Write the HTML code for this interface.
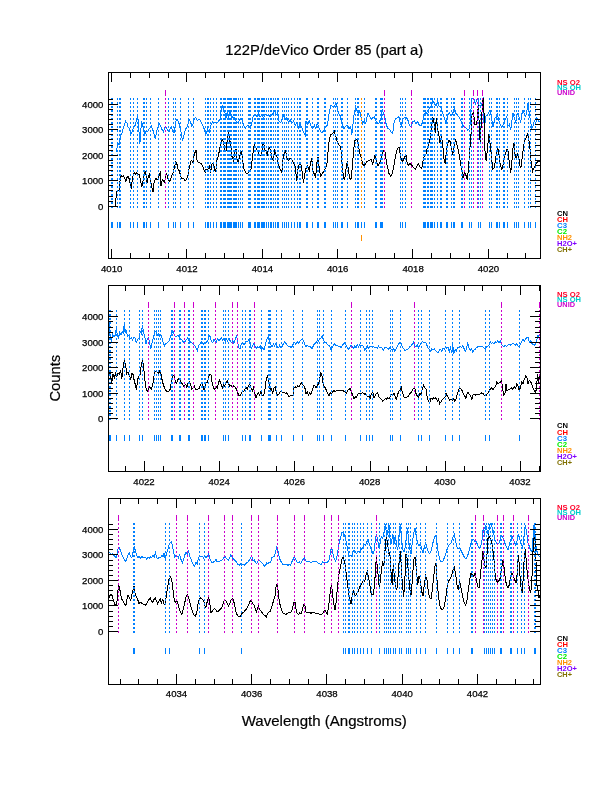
<!DOCTYPE html>
<html><head><meta charset="utf-8"><title>122P/deVico Order 85 (part a)</title>
<style>html,body{margin:0;padding:0;background:#fff}svg{display:block}</style></head><body>
<svg width="612" height="792" viewBox="0 0 612 792">
<rect width="612" height="792" fill="#fff"/>
<defs>
<pattern id="dB0" x="0" y="2" width="1" height="4" patternUnits="userSpaceOnUse"><rect x="0" y="0" width="1" height="2" fill="#0080ff"/></pattern>
<pattern id="dM0" x="0" y="2" width="1" height="4" patternUnits="userSpaceOnUse"><rect x="0" y="0" width="1" height="2" fill="#cc00cc"/></pattern>
<pattern id="dO0" x="0" y="2" width="1" height="4" patternUnits="userSpaceOnUse"><rect x="0" y="0" width="1" height="2" fill="#ff9000"/></pattern>
<pattern id="dB1" x="0" y="2" width="1" height="4" patternUnits="userSpaceOnUse"><rect x="0" y="0" width="1" height="2" fill="#0080ff"/></pattern>
<pattern id="dM1" x="0" y="2" width="1" height="4" patternUnits="userSpaceOnUse"><rect x="0" y="0" width="1" height="2" fill="#cc00cc"/></pattern>
<pattern id="dO1" x="0" y="2" width="1" height="4" patternUnits="userSpaceOnUse"><rect x="0" y="0" width="1" height="2" fill="#ff9000"/></pattern>
<pattern id="dB2" x="0" y="3" width="1" height="4" patternUnits="userSpaceOnUse"><rect x="0" y="0" width="1" height="2" fill="#0080ff"/></pattern>
<pattern id="dM2" x="0" y="3" width="1" height="4" patternUnits="userSpaceOnUse"><rect x="0" y="0" width="1" height="2" fill="#cc00cc"/></pattern>
<pattern id="dO2" x="0" y="3" width="1" height="4" patternUnits="userSpaceOnUse"><rect x="0" y="0" width="1" height="2" fill="#ff9000"/></pattern>
</defs>
<g font-family="Liberation Sans, sans-serif" fill="#000" stroke="#000" stroke-width="0.2">
<text x="324.2" y="54.8" font-size="14.8px" text-anchor="middle" textLength="198" lengthAdjust="spacingAndGlyphs">122P/deVico Order 85 (part a)</text>
<text x="324.2" y="726" font-size="15px" text-anchor="middle" textLength="165" lengthAdjust="spacingAndGlyphs">Wavelength (Angstroms)</text>
<text transform="translate(60.3 378.2) rotate(-90)" font-size="15.2px" text-anchor="middle" textLength="46.8" lengthAdjust="spacingAndGlyphs">Counts</text>
</g>
<polyline shape-rendering="crispEdges" fill="none" stroke="#0080ff" stroke-width="1" points="116.3,151.8 117.3,146.0 118.5,143.5 119.3,144.3 120.7,136.0 121.8,133.5 123.5,127.7 125.7,121.3 126.8,122.7 128.0,126.8 129.3,128.5 131.0,133.5 132.3,131.8 133.5,126.8 135.2,125.2 136.8,119.3 137.7,116.0 138.5,122.7 139.3,137.7 139.8,144.3 140.7,132.7 141.5,121.0 142.3,123.5 143.5,129.3 144.7,134.3 146.0,131.0 147.7,131.8 149.0,129.3 150.2,127.7 151.3,126.0 152.7,129.3 154.0,134.3 155.3,139.3 156.5,131.8 157.7,128.5 159.0,122.7 160.2,125.2 161.8,129.3 163.5,131.8 165.2,126.0 166.3,127.7 167.7,131.0 169.0,131.8 170.2,128.5 171.3,126.8 172.7,131.8 174.0,132.7 175.2,126.0 176.3,119.3 177.7,120.2 179.3,124.3 181.0,131.8 182.3,140.2 183.5,137.7 184.7,131.8 186.0,128.5 187.7,126.0 189.0,119.3 190.2,121.0 191.8,126.0 193.0,124.3 194.3,118.5 195.7,117.7 197.3,120.2 199.0,119.3 200.7,121.0 202.3,124.3 204.0,128.5 205.7,134.3 206.0,134.3 207.7,129.3 209.3,131.8 211.0,125.2 212.7,121.8 215.2,122.7 216.8,123.5 218.5,121.0 220.2,119.3 221.3,109.3 222.3,105.2 223.5,110.2 224.7,111.8 226.0,117.7 227.3,111.8 228.5,117.7 230.2,111.8 231.3,117.7 232.7,116.8 234.3,117.7 236.0,121.0 237.7,122.7 239.3,121.0 241.0,117.7 242.3,121.0 243.5,125.2 245.2,128.5 246.8,126.0 248.5,125.2 250.2,128.5 251.8,122.7 253.5,115.2 255.2,114.3 256.8,116.8 258.5,113.5 260.2,116.8 261.8,115.2 263.5,117.7 265.2,114.3 266.8,116.0 268.5,114.3 270.2,116.8 271.8,115.2 273.5,112.7 274.7,111.0 276.0,115.2 277.7,112.7 279.0,121.0 280.7,122.7 282.3,117.7 283.5,115.2 285.2,119.3 286.8,117.7 288.5,122.7 290.2,119.3 291.8,123.5 293.5,121.0 295.2,125.2 296.8,122.7 298.5,127.7 300.2,123.5 301.8,127.7 303.5,131.8 305.2,135.2 306.0,121.0 307.7,124.3 309.3,121.0 311.0,126.0 312.7,128.5 314.3,125.2 315.7,128.5 317.3,123.5 319.0,127.7 320.7,131.8 322.3,132.7 324.0,130.2 325.7,126.8 327.3,125.2 329.0,114.3 330.7,105.2 332.3,106.0 334.0,106.8 336.0,103.5 337.3,107.7 338.5,112.7 340.2,116.0 341.3,121.8 342.7,126.0 344.0,128.5 345.7,126.0 347.3,125.2 349.0,128.5 350.7,126.8 351.8,135.2 353.0,124.3 354.3,112.7 355.7,106.8 356.8,110.2 358.5,113.5 359.7,111.0 361.0,116.8 362.7,123.5 364.3,121.0 365.7,123.5 366.8,117.7 368.0,112.7 369.3,116.0 371.0,119.3 372.7,117.7 374.3,116.8 376.0,121.0 377.7,123.5 379.3,122.7 381.0,117.7 382.3,110.2 383.5,113.5 384.7,116.0 386.0,123.5 387.7,128.5 389.3,129.3 391.0,131.8 392.7,133.5 394.0,122.7 395.7,118.5 397.3,117.7 399.0,116.8 400.2,122.7 401.3,126.0 402.7,118.5 404.3,117.7 406.0,117.7 407.7,119.3 409.3,125.2 411.0,126.8 412.7,121.8 414.3,121.0 416.0,123.5 417.7,121.8 419.3,125.2 421.0,126.0 422.7,121.8 424.3,114.3 426.0,112.7 427.7,114.3 429.3,107.7 431.0,106.0 432.7,101.0 434.3,103.5 436.0,106.0 437.7,101.0 439.3,106.8 441.0,107.7 442.7,112.7 444.3,117.7 446.0,123.5 447.7,116.0 449.3,112.7 451.0,116.0 452.7,113.5 454.3,108.5 456.0,113.5 457.7,115.2 459.3,117.7 461.0,121.0 462.7,125.2 464.3,126.8 466.0,127.7 467.7,130.2 469.3,128.5 470.7,121.0 471.3,98.7 474.0,98.7 475.3,104.5 476.7,99.3 478.0,98.7 479.0,105.7 481.0,105.7 482.3,102.7 483.3,97.3 484.2,129.5 485.8,116.0 487.5,115.0 490.0,110.0 491.3,116.0 493.0,127.0 495.0,118.0 496.0,117.7 497.3,113.5 498.5,119.3 500.2,124.3 501.8,127.7 503.5,123.5 505.2,119.3 506.8,116.8 508.0,126.0 509.3,124.3 510.7,130.2 511.8,121.0 513.0,113.5 514.3,117.7 515.7,122.7 516.8,115.2 518.0,112.7 519.3,117.7 520.7,122.7 521.8,114.3 523.0,110.2 524.3,114.3 525.7,116.0 526.8,111.0 528.0,103.5 529.3,112.7 530.7,122.7 531.8,128.5 533.0,126.0 534.3,121.0 535.7,123.5 536.8,117.7 538.5,121.0 539.7,121.8"/>
<polyline shape-rendering="crispEdges" fill="none" stroke="#000" stroke-width="1" points="109.3,206.8 115.2,206.8 116.0,197.7 116.8,191.0 118.0,190.2 119.0,191.0 120.2,179.3 121.0,175.2 122.3,176.8 123.5,176.0 124.7,177.7 125.7,181.8 126.8,177.7 128.0,176.0 129.3,179.3 130.7,186.8 131.3,188.5 132.3,179.3 133.5,174.3 134.7,172.7 135.7,174.3 136.8,172.7 138.0,175.2 139.3,174.3 140.7,181.0 141.8,186.8 143.0,181.0 144.3,174.3 145.7,171.0 146.8,184.3 148.0,177.7 149.3,174.3 150.7,181.0 151.8,186.8 153.0,191.8 154.3,181.0 155.7,178.5 156.8,179.3 158.0,180.2 159.3,174.3 160.2,172.7 161.0,186.0 162.3,179.3 163.5,181.0 164.7,182.7 165.7,175.2 166.8,173.5 168.0,179.3 169.3,181.8 170.7,179.3 171.8,176.0 173.0,172.7 174.3,167.7 175.7,161.8 176.8,163.5 178.0,169.3 179.3,171.0 180.7,176.0 181.8,178.5 183.5,178.5 185.2,181.0 186.8,178.5 188.0,175.2 189.3,167.7 190.7,161.8 191.8,160.2 193.0,162.7 194.3,154.3 196.0,150.2 196.8,159.3 198.0,161.8 199.3,162.7 201.0,163.5 202.7,166.0 204.3,171.0 205.7,172.7 206.0,169.3 207.7,170.2 209.3,166.0 210.7,172.7 211.8,164.3 213.5,162.7 214.7,170.2 215.7,171.8 216.8,161.0 218.5,155.2 220.2,146.0 221.8,139.3 223.5,141.8 224.7,149.3 226.0,151.0 227.3,139.3 228.5,130.2 229.7,140.2 230.7,144.3 231.8,156.0 233.5,160.2 234.7,152.7 236.0,149.3 237.3,161.8 238.5,161.0 240.2,154.3 241.5,151.0 242.7,161.0 244.0,169.3 245.7,172.7 247.3,173.5 249.0,171.8 250.7,171.0 251.8,162.7 253.0,152.7 254.3,144.3 255.7,147.7 256.8,149.3 258.2,151.8 259.3,155.2 261.0,156.0 262.3,147.7 263.5,141.8 264.7,149.3 266.0,151.0 267.3,154.3 268.5,149.3 269.7,147.7 271.0,152.7 272.3,159.3 273.5,160.2 274.7,149.3 276.0,155.2 277.3,157.7 278.5,164.3 280.2,169.3 281.8,172.7 283.0,159.3 284.3,152.7 285.7,151.0 286.8,157.7 288.5,160.2 290.2,158.5 291.8,159.3 293.5,162.7 295.2,166.0 296.8,181.0 298.0,169.3 299.3,164.3 300.7,162.7 301.8,169.3 303.5,182.7 304.7,174.3 306.0,168.5 307.7,166.0 309.3,170.2 310.7,162.7 311.8,158.5 313.0,171.0 314.3,174.3 315.7,177.7 316.8,162.7 318.0,156.8 319.3,169.3 320.7,176.0 322.3,173.5 324.0,171.0 325.7,167.7 327.3,161.8 328.5,146.0 329.7,137.7 331.0,134.3 332.7,133.5 334.3,131.0 335.7,136.0 336.8,140.2 338.5,144.3 340.2,146.0 341.3,151.0 342.3,166.0 343.5,177.7 344.7,179.3 346.0,169.3 347.3,161.0 348.5,171.0 349.7,178.5 351.0,179.3 352.3,167.7 353.5,151.0 354.7,141.0 356.0,139.3 357.3,140.2 358.5,146.0 359.7,152.7 361.0,156.8 362.7,164.3 364.3,166.0 366.0,162.7 367.7,161.0 369.3,160.2 371.0,159.3 372.7,164.3 374.0,159.3 375.2,154.3 376.3,161.0 378.0,166.0 379.7,162.7 381.3,157.7 382.7,151.8 384.0,150.2 385.2,152.7 386.3,161.8 387.7,167.7 389.0,173.5 390.7,176.0 392.3,173.5 393.5,167.7 394.7,161.0 396.0,154.3 397.3,149.3 399.0,146.8 400.2,154.3 401.3,159.3 402.7,161.8 404.3,157.7 406.0,155.2 407.3,164.3 408.5,165.2 410.2,163.5 411.8,165.2 413.5,167.7 415.2,169.3 416.8,166.0 418.5,163.5 420.2,167.7 421.8,168.5 423.0,161.0 424.3,156.0 426.0,154.3 427.3,147.7 429.0,142.7 430.7,136.8 431.5,126.0 432.7,116.8 434.0,122.7 435.2,132.7 436.3,118.5 437.7,129.3 439.0,136.0 440.2,144.3 441.3,136.0 442.7,144.3 444.0,159.3 445.2,163.5 446.3,152.7 447.7,144.3 449.0,140.2 450.2,141.8 451.3,147.7 452.7,155.2 454.0,146.0 455.7,139.3 456.8,144.3 458.5,151.0 460.2,161.0 461.8,171.0 463.0,177.7 464.3,172.7 465.7,174.3 467.3,180.2 468.5,167.7 469.7,151.0 471.0,134.3 471.5,115.0 473.5,112.5 475.0,124.5 476.7,124.5 477.7,112.0 478.5,105.0 479.5,133.0 480.2,142.7 481.3,122.7 482.0,112.0 483.0,98.0 484.0,112.7 484.7,136.0 485.2,159.3 486.3,160.2 487.7,146.0 489.0,134.3 490.2,144.3 491.3,154.3 492.7,169.3 494.3,167.7 496.0,156.0 497.7,146.8 499.0,155.2 500.2,164.3 501.8,170.2 503.5,162.7 505.2,154.3 506.8,149.3 508.0,151.0 509.3,162.7 510.7,172.7 511.8,162.7 513.0,147.7 514.0,143.5 515.2,156.0 516.3,158.5 517.7,154.3 519.0,159.3 520.2,167.7 521.3,166.0 522.7,152.7 524.0,144.3 525.2,139.3 526.3,137.7 527.7,133.5 529.0,141.0 530.2,151.0 531.3,164.3 532.7,171.0 534.3,167.7 536.0,163.5 537.7,161.8 539.7,161.0"/>
<g shape-rendering="crispEdges">
<rect x="111" y="98" width="2" height="110" fill="url(#dB0)"/>
<rect x="111" y="222" width="2" height="6" fill="#0080ff"/>
<rect x="117" y="98" width="1" height="110" fill="url(#dB0)"/>
<rect x="117" y="222" width="1" height="6" fill="#0080ff"/>
<rect x="119" y="98" width="2" height="110" fill="url(#dB0)"/>
<rect x="119" y="222" width="2" height="6" fill="#0080ff"/>
<rect x="130" y="98" width="1" height="110" fill="url(#dB0)"/>
<rect x="130" y="222" width="1" height="6" fill="#0080ff"/>
<rect x="133" y="98" width="1" height="110" fill="url(#dB0)"/>
<rect x="133" y="222" width="1" height="6" fill="#0080ff"/>
<rect x="137" y="98" width="1" height="110" fill="url(#dB0)"/>
<rect x="137" y="222" width="1" height="6" fill="#0080ff"/>
<rect x="143" y="98" width="2" height="110" fill="url(#dB0)"/>
<rect x="143" y="222" width="2" height="6" fill="#0080ff"/>
<rect x="146" y="98" width="1" height="110" fill="url(#dB0)"/>
<rect x="146" y="222" width="1" height="6" fill="#0080ff"/>
<rect x="150" y="98" width="1" height="110" fill="url(#dB0)"/>
<rect x="150" y="222" width="1" height="6" fill="#0080ff"/>
<rect x="158" y="98" width="1" height="110" fill="url(#dB0)"/>
<rect x="158" y="222" width="1" height="6" fill="#0080ff"/>
<rect x="168" y="98" width="1" height="110" fill="url(#dB0)"/>
<rect x="168" y="222" width="1" height="6" fill="#0080ff"/>
<rect x="173" y="98" width="1" height="110" fill="url(#dB0)"/>
<rect x="173" y="222" width="1" height="6" fill="#0080ff"/>
<rect x="175" y="98" width="1" height="110" fill="url(#dB0)"/>
<rect x="175" y="222" width="1" height="6" fill="#0080ff"/>
<rect x="180" y="98" width="1" height="110" fill="url(#dB0)"/>
<rect x="180" y="222" width="1" height="6" fill="#0080ff"/>
<rect x="188" y="98" width="1" height="110" fill="url(#dB0)"/>
<rect x="188" y="222" width="1" height="6" fill="#0080ff"/>
<rect x="193" y="98" width="1" height="110" fill="url(#dB0)"/>
<rect x="193" y="222" width="1" height="6" fill="#0080ff"/>
<rect x="205" y="98" width="1" height="110" fill="url(#dB0)"/>
<rect x="205" y="222" width="1" height="6" fill="#0080ff"/>
<rect x="207" y="98" width="2" height="110" fill="url(#dB0)"/>
<rect x="207" y="222" width="2" height="6" fill="#0080ff"/>
<rect x="210" y="98" width="1" height="110" fill="url(#dB0)"/>
<rect x="210" y="222" width="1" height="6" fill="#0080ff"/>
<rect x="213" y="98" width="1" height="110" fill="url(#dB0)"/>
<rect x="213" y="222" width="1" height="6" fill="#0080ff"/>
<rect x="216" y="98" width="1" height="110" fill="url(#dB0)"/>
<rect x="216" y="222" width="1" height="6" fill="#0080ff"/>
<rect x="220" y="98" width="2" height="110" fill="url(#dB0)"/>
<rect x="220" y="222" width="2" height="6" fill="#0080ff"/>
<rect x="223" y="98" width="3" height="110" fill="url(#dB0)"/>
<rect x="223" y="222" width="3" height="6" fill="#0080ff"/>
<rect x="227" y="98" width="5" height="110" fill="url(#dB0)"/>
<rect x="227" y="222" width="5" height="6" fill="#0080ff"/>
<rect x="233" y="98" width="4" height="110" fill="url(#dB0)"/>
<rect x="233" y="222" width="4" height="6" fill="#0080ff"/>
<rect x="238" y="98" width="1" height="110" fill="url(#dB0)"/>
<rect x="238" y="222" width="1" height="6" fill="#0080ff"/>
<rect x="240" y="98" width="1" height="110" fill="url(#dB0)"/>
<rect x="240" y="222" width="1" height="6" fill="#0080ff"/>
<rect x="242" y="98" width="1" height="110" fill="url(#dB0)"/>
<rect x="242" y="222" width="1" height="6" fill="#0080ff"/>
<rect x="248" y="98" width="3" height="110" fill="url(#dB0)"/>
<rect x="248" y="222" width="3" height="6" fill="#0080ff"/>
<rect x="254" y="98" width="2" height="110" fill="url(#dB0)"/>
<rect x="254" y="222" width="2" height="6" fill="#0080ff"/>
<rect x="257" y="98" width="3" height="110" fill="url(#dB0)"/>
<rect x="257" y="222" width="3" height="6" fill="#0080ff"/>
<rect x="261" y="98" width="4" height="110" fill="url(#dB0)"/>
<rect x="261" y="222" width="4" height="6" fill="#0080ff"/>
<rect x="266" y="98" width="1" height="110" fill="url(#dB0)"/>
<rect x="266" y="222" width="1" height="6" fill="#0080ff"/>
<rect x="268" y="98" width="1" height="110" fill="url(#dB0)"/>
<rect x="268" y="222" width="1" height="6" fill="#0080ff"/>
<rect x="270" y="98" width="2" height="110" fill="url(#dB0)"/>
<rect x="270" y="222" width="2" height="6" fill="#0080ff"/>
<rect x="273" y="98" width="1" height="110" fill="url(#dB0)"/>
<rect x="273" y="222" width="1" height="6" fill="#0080ff"/>
<rect x="275" y="98" width="1" height="110" fill="url(#dB0)"/>
<rect x="275" y="222" width="1" height="6" fill="#0080ff"/>
<rect x="277" y="98" width="2" height="110" fill="url(#dB0)"/>
<rect x="277" y="222" width="2" height="6" fill="#0080ff"/>
<rect x="282" y="98" width="1" height="110" fill="url(#dB0)"/>
<rect x="282" y="222" width="1" height="6" fill="#0080ff"/>
<rect x="284" y="98" width="1" height="110" fill="url(#dB0)"/>
<rect x="284" y="222" width="1" height="6" fill="#0080ff"/>
<rect x="286" y="98" width="1" height="110" fill="url(#dB0)"/>
<rect x="286" y="222" width="1" height="6" fill="#0080ff"/>
<rect x="288" y="98" width="1" height="110" fill="url(#dB0)"/>
<rect x="288" y="222" width="1" height="6" fill="#0080ff"/>
<rect x="291" y="98" width="1" height="110" fill="url(#dB0)"/>
<rect x="291" y="222" width="1" height="6" fill="#0080ff"/>
<rect x="294" y="98" width="1" height="110" fill="url(#dB0)"/>
<rect x="294" y="222" width="1" height="6" fill="#0080ff"/>
<rect x="297" y="98" width="1" height="110" fill="url(#dB0)"/>
<rect x="297" y="222" width="1" height="6" fill="#0080ff"/>
<rect x="299" y="98" width="2" height="110" fill="url(#dB0)"/>
<rect x="299" y="222" width="2" height="6" fill="#0080ff"/>
<rect x="306" y="98" width="2" height="110" fill="url(#dB0)"/>
<rect x="306" y="222" width="2" height="6" fill="#0080ff"/>
<rect x="312" y="98" width="1" height="110" fill="url(#dB0)"/>
<rect x="312" y="222" width="1" height="6" fill="#0080ff"/>
<rect x="317" y="98" width="2" height="110" fill="url(#dB0)"/>
<rect x="317" y="222" width="2" height="6" fill="#0080ff"/>
<rect x="324" y="98" width="2" height="110" fill="url(#dB0)"/>
<rect x="324" y="222" width="2" height="6" fill="#0080ff"/>
<rect x="333" y="98" width="1" height="110" fill="url(#dB0)"/>
<rect x="333" y="222" width="1" height="6" fill="#0080ff"/>
<rect x="335" y="98" width="1" height="110" fill="url(#dB0)"/>
<rect x="335" y="222" width="1" height="6" fill="#0080ff"/>
<rect x="337" y="98" width="1" height="110" fill="url(#dB0)"/>
<rect x="337" y="222" width="1" height="6" fill="#0080ff"/>
<rect x="341" y="98" width="2" height="110" fill="url(#dB0)"/>
<rect x="341" y="222" width="2" height="6" fill="#0080ff"/>
<rect x="347" y="98" width="1" height="110" fill="url(#dB0)"/>
<rect x="347" y="222" width="1" height="6" fill="#0080ff"/>
<rect x="355" y="98" width="1" height="110" fill="url(#dB0)"/>
<rect x="355" y="222" width="1" height="6" fill="#0080ff"/>
<rect x="357" y="98" width="2" height="110" fill="url(#dB0)"/>
<rect x="357" y="222" width="2" height="6" fill="#0080ff"/>
<rect x="361" y="98" width="1" height="110" fill="url(#dB0)"/>
<rect x="361" y="222" width="1" height="6" fill="#0080ff"/>
<rect x="364" y="98" width="1" height="110" fill="url(#dB0)"/>
<rect x="364" y="222" width="1" height="6" fill="#0080ff"/>
<rect x="375" y="98" width="2" height="110" fill="url(#dB0)"/>
<rect x="375" y="222" width="2" height="6" fill="#0080ff"/>
<rect x="380" y="98" width="3" height="110" fill="url(#dB0)"/>
<rect x="380" y="222" width="3" height="6" fill="#0080ff"/>
<rect x="400" y="98" width="1" height="110" fill="url(#dB0)"/>
<rect x="400" y="222" width="1" height="6" fill="#0080ff"/>
<rect x="402" y="98" width="1" height="110" fill="url(#dB0)"/>
<rect x="402" y="222" width="1" height="6" fill="#0080ff"/>
<rect x="405" y="98" width="1" height="110" fill="url(#dB0)"/>
<rect x="405" y="222" width="1" height="6" fill="#0080ff"/>
<rect x="423" y="98" width="3" height="110" fill="url(#dB0)"/>
<rect x="423" y="222" width="3" height="6" fill="#0080ff"/>
<rect x="427" y="98" width="2" height="110" fill="url(#dB0)"/>
<rect x="427" y="222" width="2" height="6" fill="#0080ff"/>
<rect x="430" y="98" width="3" height="110" fill="url(#dB0)"/>
<rect x="430" y="222" width="3" height="6" fill="#0080ff"/>
<rect x="434" y="98" width="1" height="110" fill="url(#dB0)"/>
<rect x="434" y="222" width="1" height="6" fill="#0080ff"/>
<rect x="437" y="98" width="1" height="110" fill="url(#dB0)"/>
<rect x="437" y="222" width="1" height="6" fill="#0080ff"/>
<rect x="440" y="98" width="2" height="110" fill="url(#dB0)"/>
<rect x="440" y="222" width="2" height="6" fill="#0080ff"/>
<rect x="446" y="98" width="2" height="110" fill="url(#dB0)"/>
<rect x="446" y="222" width="2" height="6" fill="#0080ff"/>
<rect x="451" y="98" width="1" height="110" fill="url(#dB0)"/>
<rect x="451" y="222" width="1" height="6" fill="#0080ff"/>
<rect x="453" y="98" width="2" height="110" fill="url(#dB0)"/>
<rect x="453" y="222" width="2" height="6" fill="#0080ff"/>
<rect x="461" y="98" width="2" height="110" fill="url(#dB0)"/>
<rect x="461" y="222" width="2" height="6" fill="#0080ff"/>
<rect x="469" y="98" width="1" height="110" fill="url(#dB0)"/>
<rect x="469" y="222" width="1" height="6" fill="#0080ff"/>
<rect x="471" y="98" width="1" height="110" fill="url(#dB0)"/>
<rect x="471" y="222" width="1" height="6" fill="#0080ff"/>
<rect x="478" y="98" width="1" height="110" fill="url(#dB0)"/>
<rect x="478" y="222" width="1" height="6" fill="#0080ff"/>
<rect x="480" y="98" width="1" height="110" fill="url(#dB0)"/>
<rect x="480" y="222" width="1" height="6" fill="#0080ff"/>
<rect x="489" y="98" width="1" height="110" fill="url(#dB0)"/>
<rect x="489" y="222" width="1" height="6" fill="#0080ff"/>
<rect x="491" y="98" width="1" height="110" fill="url(#dB0)"/>
<rect x="491" y="222" width="1" height="6" fill="#0080ff"/>
<rect x="496" y="98" width="2" height="110" fill="url(#dB0)"/>
<rect x="496" y="222" width="2" height="6" fill="#0080ff"/>
<rect x="499" y="98" width="1" height="110" fill="url(#dB0)"/>
<rect x="499" y="222" width="1" height="6" fill="#0080ff"/>
<rect x="503" y="98" width="2" height="110" fill="url(#dB0)"/>
<rect x="503" y="222" width="2" height="6" fill="#0080ff"/>
<rect x="507" y="98" width="1" height="110" fill="url(#dB0)"/>
<rect x="507" y="222" width="1" height="6" fill="#0080ff"/>
<rect x="514" y="98" width="1" height="110" fill="url(#dB0)"/>
<rect x="514" y="222" width="1" height="6" fill="#0080ff"/>
<rect x="516" y="98" width="1" height="110" fill="url(#dB0)"/>
<rect x="516" y="222" width="1" height="6" fill="#0080ff"/>
<rect x="518" y="98" width="1" height="110" fill="url(#dB0)"/>
<rect x="518" y="222" width="1" height="6" fill="#0080ff"/>
<rect x="524" y="98" width="1" height="110" fill="url(#dB0)"/>
<rect x="524" y="222" width="1" height="6" fill="#0080ff"/>
<rect x="528" y="98" width="1" height="110" fill="url(#dB0)"/>
<rect x="528" y="222" width="1" height="6" fill="#0080ff"/>
<rect x="530" y="98" width="1" height="110" fill="url(#dB0)"/>
<rect x="530" y="222" width="1" height="6" fill="#0080ff"/>
<rect x="535" y="98" width="1" height="110" fill="url(#dB0)"/>
<rect x="535" y="222" width="1" height="6" fill="#0080ff"/>
<rect x="361" y="98" width="1" height="110" fill="url(#dO0)"/>
<rect x="361" y="235" width="1" height="6" fill="#ff9000"/>
<rect x="165" y="98" width="1" height="110" fill="url(#dM0)"/>
<rect x="165" y="90" width="1" height="6" fill="#cc00cc"/>
<rect x="384" y="98" width="1" height="110" fill="url(#dM0)"/>
<rect x="384" y="90" width="1" height="6" fill="#cc00cc"/>
<rect x="411" y="98" width="1" height="110" fill="url(#dM0)"/>
<rect x="411" y="90" width="1" height="6" fill="#cc00cc"/>
<rect x="464" y="98" width="1" height="110" fill="url(#dM0)"/>
<rect x="464" y="90" width="1" height="6" fill="#cc00cc"/>
<rect x="473" y="98" width="1" height="110" fill="url(#dM0)"/>
<rect x="473" y="90" width="1" height="6" fill="#cc00cc"/>
<rect x="477" y="98" width="1" height="110" fill="url(#dM0)"/>
<rect x="477" y="90" width="1" height="6" fill="#cc00cc"/>
<rect x="482" y="98" width="1" height="110" fill="url(#dM0)"/>
<rect x="482" y="90" width="1" height="6" fill="#cc00cc"/>
</g>
<g shape-rendering="crispEdges" fill="#000">
<rect x="108" y="72" width="433" height="1" fill="#000"/>
<rect x="108" y="258" width="433" height="1" fill="#000"/>
<rect x="108" y="72" width="1" height="187" fill="#000"/>
<rect x="540" y="72" width="1" height="187" fill="#000"/>
<rect x="111" y="73" width="1" height="9" fill="#000"/>
<rect x="111" y="249" width="1" height="9" fill="#000"/>
<rect x="130" y="73" width="1" height="5" fill="#000"/>
<rect x="130" y="253" width="1" height="5" fill="#000"/>
<rect x="149" y="73" width="1" height="5" fill="#000"/>
<rect x="149" y="253" width="1" height="5" fill="#000"/>
<rect x="168" y="73" width="1" height="5" fill="#000"/>
<rect x="168" y="253" width="1" height="5" fill="#000"/>
<rect x="186" y="73" width="1" height="9" fill="#000"/>
<rect x="186" y="249" width="1" height="9" fill="#000"/>
<rect x="205" y="73" width="1" height="5" fill="#000"/>
<rect x="205" y="253" width="1" height="5" fill="#000"/>
<rect x="224" y="73" width="1" height="5" fill="#000"/>
<rect x="224" y="253" width="1" height="5" fill="#000"/>
<rect x="243" y="73" width="1" height="5" fill="#000"/>
<rect x="243" y="253" width="1" height="5" fill="#000"/>
<rect x="262" y="73" width="1" height="9" fill="#000"/>
<rect x="262" y="249" width="1" height="9" fill="#000"/>
<rect x="281" y="73" width="1" height="5" fill="#000"/>
<rect x="281" y="253" width="1" height="5" fill="#000"/>
<rect x="299" y="73" width="1" height="5" fill="#000"/>
<rect x="299" y="253" width="1" height="5" fill="#000"/>
<rect x="318" y="73" width="1" height="5" fill="#000"/>
<rect x="318" y="253" width="1" height="5" fill="#000"/>
<rect x="337" y="73" width="1" height="9" fill="#000"/>
<rect x="337" y="249" width="1" height="9" fill="#000"/>
<rect x="356" y="73" width="1" height="5" fill="#000"/>
<rect x="356" y="253" width="1" height="5" fill="#000"/>
<rect x="375" y="73" width="1" height="5" fill="#000"/>
<rect x="375" y="253" width="1" height="5" fill="#000"/>
<rect x="394" y="73" width="1" height="5" fill="#000"/>
<rect x="394" y="253" width="1" height="5" fill="#000"/>
<rect x="412" y="73" width="1" height="9" fill="#000"/>
<rect x="412" y="249" width="1" height="9" fill="#000"/>
<rect x="431" y="73" width="1" height="5" fill="#000"/>
<rect x="431" y="253" width="1" height="5" fill="#000"/>
<rect x="450" y="73" width="1" height="5" fill="#000"/>
<rect x="450" y="253" width="1" height="5" fill="#000"/>
<rect x="469" y="73" width="1" height="5" fill="#000"/>
<rect x="469" y="253" width="1" height="5" fill="#000"/>
<rect x="488" y="73" width="1" height="9" fill="#000"/>
<rect x="488" y="249" width="1" height="9" fill="#000"/>
<rect x="507" y="73" width="1" height="5" fill="#000"/>
<rect x="507" y="253" width="1" height="5" fill="#000"/>
<rect x="525" y="73" width="1" height="5" fill="#000"/>
<rect x="525" y="253" width="1" height="5" fill="#000"/>
<rect x="109" y="206" width="9" height="1" fill="#000"/>
<rect x="530" y="206" width="10" height="1" fill="#000"/>
<rect x="109" y="201" width="4" height="1" fill="#000"/>
<rect x="535" y="201" width="5" height="1" fill="#000"/>
<rect x="109" y="196" width="4" height="1" fill="#000"/>
<rect x="535" y="196" width="5" height="1" fill="#000"/>
<rect x="109" y="190" width="4" height="1" fill="#000"/>
<rect x="535" y="190" width="5" height="1" fill="#000"/>
<rect x="109" y="185" width="4" height="1" fill="#000"/>
<rect x="535" y="185" width="5" height="1" fill="#000"/>
<rect x="109" y="180" width="9" height="1" fill="#000"/>
<rect x="530" y="180" width="10" height="1" fill="#000"/>
<rect x="109" y="175" width="4" height="1" fill="#000"/>
<rect x="535" y="175" width="5" height="1" fill="#000"/>
<rect x="109" y="170" width="4" height="1" fill="#000"/>
<rect x="535" y="170" width="5" height="1" fill="#000"/>
<rect x="109" y="165" width="4" height="1" fill="#000"/>
<rect x="535" y="165" width="5" height="1" fill="#000"/>
<rect x="109" y="160" width="4" height="1" fill="#000"/>
<rect x="535" y="160" width="5" height="1" fill="#000"/>
<rect x="109" y="155" width="9" height="1" fill="#000"/>
<rect x="530" y="155" width="10" height="1" fill="#000"/>
<rect x="109" y="150" width="4" height="1" fill="#000"/>
<rect x="535" y="150" width="5" height="1" fill="#000"/>
<rect x="109" y="145" width="4" height="1" fill="#000"/>
<rect x="535" y="145" width="5" height="1" fill="#000"/>
<rect x="109" y="139" width="4" height="1" fill="#000"/>
<rect x="535" y="139" width="5" height="1" fill="#000"/>
<rect x="109" y="134" width="4" height="1" fill="#000"/>
<rect x="535" y="134" width="5" height="1" fill="#000"/>
<rect x="109" y="129" width="9" height="1" fill="#000"/>
<rect x="530" y="129" width="10" height="1" fill="#000"/>
<rect x="109" y="124" width="4" height="1" fill="#000"/>
<rect x="535" y="124" width="5" height="1" fill="#000"/>
<rect x="109" y="119" width="4" height="1" fill="#000"/>
<rect x="535" y="119" width="5" height="1" fill="#000"/>
<rect x="109" y="114" width="4" height="1" fill="#000"/>
<rect x="535" y="114" width="5" height="1" fill="#000"/>
<rect x="109" y="109" width="4" height="1" fill="#000"/>
<rect x="535" y="109" width="5" height="1" fill="#000"/>
<rect x="109" y="104" width="9" height="1" fill="#000"/>
<rect x="530" y="104" width="10" height="1" fill="#000"/>
<rect x="109" y="99" width="4" height="1" fill="#000"/>
<rect x="535" y="99" width="5" height="1" fill="#000"/>
</g>
<g font-family="Liberation Sans, sans-serif" font-size="9.6px" fill="#000" stroke="#000" stroke-width="0.25">
<text x="111.7" y="272" text-anchor="middle">4010</text>
<text x="187.0" y="272" text-anchor="middle">4012</text>
<text x="262.4" y="272" text-anchor="middle">4014</text>
<text x="337.7" y="272" text-anchor="middle">4016</text>
<text x="413.1" y="272" text-anchor="middle">4018</text>
<text x="488.4" y="272" text-anchor="middle">4020</text>
<text x="103.4" y="210" text-anchor="end">0</text>
<text x="103.4" y="184" text-anchor="end">1000</text>
<text x="103.4" y="159" text-anchor="end">2000</text>
<text x="103.4" y="133" text-anchor="end">3000</text>
<text x="103.4" y="108" text-anchor="end">4000</text>
</g>
<g font-family="Liberation Sans, sans-serif" font-size="7px" font-weight="bold">
<text x="557" y="85" fill="#ff0028" textLength="23" lengthAdjust="spacingAndGlyphs">NS O2</text>
<text x="557" y="90" fill="#00cccc" textLength="24" lengthAdjust="spacingAndGlyphs">NS OH</text>
<text x="557" y="95" fill="#cc00cc" textLength="18" lengthAdjust="spacingAndGlyphs">UNID</text>
<text x="557" y="216" fill="#000" textLength="11" lengthAdjust="spacingAndGlyphs">CN</text>
<text x="557" y="222" fill="#ff0000" textLength="11" lengthAdjust="spacingAndGlyphs">CH</text>
<text x="557" y="228" fill="#0080ff" textLength="10" lengthAdjust="spacingAndGlyphs">C3</text>
<text x="557" y="234" fill="#00ee00" textLength="10" lengthAdjust="spacingAndGlyphs">C2</text>
<text x="557" y="240" fill="#ff9000" textLength="15" lengthAdjust="spacingAndGlyphs">NH2</text>
<text x="557" y="246" fill="#8000ff" textLength="20" lengthAdjust="spacingAndGlyphs">H2O+</text>
<text x="557" y="252" fill="#807000" textLength="15" lengthAdjust="spacingAndGlyphs">CH+</text>
</g>
<polyline shape-rendering="crispEdges" fill="none" stroke="#0080ff" stroke-width="1" points="108.5,317.7 109.3,322.7 110.2,337.7 111.3,341.0 112.7,334.3 114.0,336.8 115.2,335.2 116.3,327.7 117.3,335.2 118.5,337.7 119.7,332.7 121.0,335.2 122.3,331.8 123.5,333.5 124.3,321.8 125.3,332.7 126.3,331.0 127.7,336.0 129.0,335.2 130.2,338.5 131.3,337.7 132.7,340.2 134.0,336.8 135.2,338.5 136.3,342.7 137.7,339.3 139.0,337.7 140.2,331.8 141.3,333.5 142.3,325.2 143.5,331.8 144.7,336.8 146.0,343.5 147.3,339.3 148.5,337.7 149.7,343.5 151.0,348.5 152.3,341.0 153.5,337.7 154.7,331.8 156.0,331.0 157.3,335.2 158.5,333.5 159.7,336.0 161.0,335.2 162.3,339.3 163.5,343.5 164.7,346.0 166.0,343.5 167.3,342.7 169.0,341.0 170.7,336.0 171.8,332.7 173.0,331.0 174.3,335.2 176.0,336.8 177.7,335.2 179.3,336.8 181.0,339.3 182.7,341.0 184.3,342.7 186.0,340.2 187.7,337.7 189.3,341.0 191.0,342.7 192.7,343.5 194.3,345.2 196.0,347.7 197.3,351.0 198.5,346.0 200.2,343.5 201.8,341.8 203.5,344.3 205.2,342.7 206.0,342.7 207.7,341.0 209.0,335.2 210.2,336.8 211.3,341.0 212.7,342.7 214.0,339.3 215.2,341.0 216.3,341.8 217.7,338.5 219.0,341.0 220.2,339.3 221.3,337.7 222.7,340.2 224.0,338.5 225.2,341.0 226.3,338.5 227.7,341.0 229.0,337.7 230.2,341.0 231.3,342.7 232.7,341.0 234.0,343.5 235.2,339.3 236.5,335.2 237.7,342.7 238.8,347.7 240.2,348.5 241.3,344.3 242.7,342.7 244.0,345.2 245.2,342.7 246.3,341.0 247.7,341.8 249.0,339.3 250.2,344.3 251.3,348.5 252.7,345.2 254.0,343.5 255.2,346.8 256.3,348.5 257.7,346.8 259.0,347.7 260.2,346.0 261.3,349.3 262.7,347.7 264.0,350.2 265.2,345.2 266.3,341.0 267.7,337.7 268.7,335.2 269.7,343.5 271.0,345.2 272.3,346.8 273.5,344.3 274.7,346.0 276.0,342.7 277.3,346.8 278.5,347.7 279.7,345.2 281.0,347.7 282.3,346.0 283.5,343.5 284.7,341.8 286.0,343.5 287.3,345.2 288.5,346.8 289.7,346.0 291.0,347.7 292.3,346.0 293.5,343.5 294.7,342.7 296.0,344.3 297.3,341.8 298.5,343.5 299.7,341.0 301.0,340.2 302.3,338.5 303.5,341.0 304.7,344.3 306.0,346.8 307.3,345.2 308.5,346.8 309.7,346.0 311.0,347.7 312.3,348.5 313.5,345.2 314.7,343.5 316.0,342.7 317.3,340.2 318.5,341.0 319.7,339.3 321.0,337.7 322.2,336.0 323.5,340.2 324.7,342.7 326.0,341.8 327.3,344.3 328.5,345.2 329.7,346.0 331.0,350.2 332.3,346.8 333.5,345.2 334.7,343.5 336.0,346.0 337.3,345.2 338.5,346.8 339.7,346.0 341.0,347.7 342.3,345.2 343.5,344.3 344.7,342.7 346.0,345.2 347.3,347.7 348.5,349.3 349.7,347.7 351.0,345.2 352.3,346.8 353.5,348.5 354.7,346.0 356.0,347.7 357.3,344.3 358.5,346.8 359.7,344.3 361.0,346.0 362.3,345.2 363.5,346.8 364.7,350.2 366.0,348.5 367.3,346.0 368.5,348.5 369.7,346.8 371.0,346.0 372.3,347.7 373.5,346.8 374.7,347.7 376.0,346.8 377.3,348.5 378.5,346.0 379.7,347.7 381.0,346.8 382.3,348.5 383.5,350.2 384.7,347.7 386.0,346.8 387.3,348.5 388.5,349.3 389.7,347.7 391.0,349.3 392.3,350.2 393.5,348.5 394.7,351.0 396.0,349.3 397.3,346.8 398.5,344.3 399.7,342.7 401.0,343.5 402.3,346.8 403.5,348.5 404.7,350.2 406.0,350.2 407.3,349.3 408.5,348.5 409.7,346.8 411.0,346.0 412.3,344.3 413.5,341.8 414.7,346.0 416.0,346.8 417.3,345.2 418.5,347.7 419.7,345.2 421.0,343.5 422.3,341.8 424.0,342.7 425.7,342.7 426.8,345.2 428.0,347.7 429.3,349.3 430.7,351.8 431.8,348.5 433.0,350.2 434.3,348.5 435.7,351.0 436.8,351.8 438.0,352.7 439.3,350.2 440.7,349.3 441.8,351.8 443.0,348.5 444.3,349.3 445.7,346.8 446.8,348.5 448.0,346.8 449.3,351.8 450.5,347.7 451.7,352.7 452.7,344.3 453.8,353.5 455.2,349.3 456.3,351.0 457.7,347.7 459.0,346.8 460.2,346.0 461.3,347.7 462.7,346.0 464.0,348.5 465.2,351.8 466.3,349.3 467.7,343.5 469.0,347.7 470.2,350.2 471.3,348.5 472.7,351.8 474.0,350.2 475.2,349.3 476.3,347.7 477.7,346.8 479.0,346.0 480.2,346.8 481.3,346.0 482.7,346.8 484.0,347.7 485.2,349.3 486.3,346.8 487.7,346.0 489.0,345.2 490.2,341.8 491.3,343.5 492.7,342.7 494.0,344.3 495.2,341.8 496.3,342.7 497.7,341.0 499.0,342.7 500.2,341.0 501.3,343.5 502.7,346.0 504.0,346.8 505.2,345.2 506.5,346.8 508.0,345.2 509.3,344.3 510.7,345.2 511.8,344.3 513.0,343.5 514.3,344.3 515.7,345.2 516.8,343.5 518.0,346.0 519.3,346.8 520.7,343.5 521.8,341.0 523.0,339.3 524.3,341.0 525.7,338.5 526.8,337.7 528.0,336.8 529.3,342.7 530.7,340.2 531.8,343.5 533.0,344.3 534.3,345.2 535.7,344.3 536.8,339.3 538.0,335.2 539.3,337.7"/>
<polyline shape-rendering="crispEdges" fill="none" stroke="#000" stroke-width="1" points="109.3,371.0 110.7,376.0 111.8,382.7 113.0,374.3 114.3,377.7 115.7,373.5 116.8,376.0 118.0,372.7 119.3,374.3 120.7,371.0 121.8,378.5 123.0,367.7 124.3,360.2 125.7,366.0 126.8,373.5 128.0,371.8 129.3,375.2 130.7,379.3 131.8,373.5 133.0,374.3 134.3,381.0 135.7,386.0 136.3,390.2 137.7,379.3 139.0,376.0 140.2,374.3 141.3,364.3 142.7,360.2 144.0,371.0 145.2,382.7 146.3,389.3 147.7,391.8 149.0,386.0 150.2,387.7 151.3,389.3 152.7,385.2 154.0,376.0 155.2,371.0 156.8,371.8 158.5,373.5 159.7,371.0 161.0,374.3 162.3,381.0 163.5,385.2 165.2,389.3 166.8,391.8 168.5,391.8 170.2,389.3 171.3,382.7 172.7,376.0 174.0,375.2 175.2,381.0 176.3,383.5 177.7,380.2 179.0,377.7 180.2,379.3 181.3,382.7 182.7,384.3 184.0,386.8 185.7,384.3 186.8,387.7 188.0,382.7 189.3,381.8 190.7,384.3 191.8,389.3 193.0,387.7 194.3,386.0 196.0,390.2 197.7,389.3 199.3,388.5 200.7,384.3 201.8,382.7 203.0,386.0 204.3,391.0 205.7,384.3 206.0,381.8 207.3,382.7 208.5,377.7 209.7,374.3 211.0,375.2 212.3,384.3 213.5,387.7 214.7,389.3 216.0,386.0 217.3,387.7 218.5,382.7 219.7,380.2 221.0,384.3 222.3,387.7 223.5,384.3 224.7,386.0 226.0,382.7 227.3,381.0 228.5,383.5 229.7,386.0 231.0,385.2 232.3,387.7 233.5,386.0 234.7,386.8 236.0,388.5 237.3,391.0 238.5,395.2 239.8,396.0 241.0,394.3 242.3,391.0 243.5,391.8 244.7,389.3 246.0,386.8 247.3,389.3 248.5,386.0 249.7,384.3 251.0,387.7 252.3,391.0 253.5,387.7 254.7,393.5 256.0,397.7 257.3,394.3 258.5,392.7 259.7,395.2 261.0,391.0 262.3,396.0 263.5,395.2 264.7,391.8 265.7,382.7 266.8,377.7 267.7,376.0 269.0,384.3 270.2,389.3 271.3,388.5 272.7,392.7 274.0,387.7 275.2,386.8 276.3,392.7 277.7,395.2 279.0,394.3 280.2,391.8 281.3,391.0 282.7,392.7 284.0,391.8 285.2,393.5 286.3,392.7 287.7,394.3 289.0,396.8 290.2,396.0 291.8,395.2 293.0,395.7 293.8,387.7 295.2,386.8 296.3,387.7 297.7,386.0 299.0,386.8 300.2,384.3 301.8,382.7 303.0,385.2 304.3,386.0 305.7,391.0 306.0,393.5 307.3,391.8 308.5,395.2 309.7,392.7 311.0,394.3 312.3,390.2 313.5,386.0 314.7,385.2 316.0,387.7 317.3,386.0 318.5,383.5 319.7,379.3 320.7,372.7 321.8,374.3 322.7,381.8 324.0,386.0 325.2,387.7 326.3,390.2 327.7,393.5 329.0,396.0 330.2,392.7 331.3,394.3 332.7,391.8 334.0,390.2 335.2,391.8 336.3,391.0 337.7,390.2 339.0,391.0 340.2,390.2 341.3,391.0 342.7,390.2 344.0,391.8 345.2,391.0 346.3,393.5 347.7,390.2 349.0,389.3 350.2,388.5 351.3,391.8 352.7,395.2 354.0,398.5 355.2,396.8 356.3,397.7 357.7,394.3 359.0,393.5 360.2,394.3 361.3,393.5 362.7,392.7 364.0,394.3 365.2,393.5 366.3,395.2 367.7,396.8 369.0,396.0 370.2,398.5 371.3,394.3 372.7,391.8 374.0,397.7 375.2,396.0 376.3,393.5 377.7,392.7 379.0,396.8 380.2,398.5 381.3,399.3 382.7,401.0 384.0,400.2 385.2,398.5 386.3,399.3 387.7,397.7 389.0,398.5 390.2,396.8 391.3,394.3 392.7,395.2 394.0,393.5 395.2,396.8 396.3,399.3 397.7,394.3 399.0,391.0 400.2,390.2 401.3,387.7 402.3,391.8 403.5,396.0 404.7,397.7 406.0,397.7 407.3,396.8 408.5,396.0 409.7,393.5 411.0,392.7 412.3,390.2 413.5,388.5 414.7,387.7 416.0,393.5 417.3,396.0 418.5,397.7 419.7,393.5 421.0,394.3 422.3,389.3 423.5,385.2 424.7,387.7 426.0,389.3 427.3,397.7 428.5,401.0 429.7,402.7 431.0,398.5 432.3,399.3 433.5,397.7 434.7,398.5 436.0,397.7 437.3,401.0 438.5,399.3 439.7,403.5 441.0,401.8 442.3,399.3 443.5,398.5 444.7,397.7 446.0,393.5 447.3,396.0 448.5,397.7 449.7,400.2 451.0,399.3 452.3,400.2 453.5,398.5 454.7,401.0 456.0,399.3 457.3,394.3 458.5,390.2 459.7,387.7 461.0,389.3 462.3,391.0 463.5,394.3 464.7,396.0 466.0,398.5 467.2,392.7 468.0,391.8 469.3,394.3 470.7,396.0 471.8,399.3 473.0,395.2 474.3,394.3 475.7,395.2 476.8,394.3 478.0,395.2 479.3,394.3 480.7,393.5 481.8,392.7 483.0,393.5 484.3,395.2 485.7,396.0 486.8,394.3 488.0,392.7 489.3,390.2 490.7,388.5 491.8,387.7 493.0,390.2 494.3,387.7 495.7,386.0 496.8,381.8 498.0,383.5 499.3,382.7 500.7,381.8 501.5,380.2 502.7,389.3 503.8,395.2 505.2,392.7 506.0,384.3 507.0,391.0 508.0,390.2 509.3,389.3 510.7,388.5 511.8,387.7 513.0,389.3 514.3,386.8 515.7,388.5 516.8,384.3 518.0,386.0 519.3,391.0 520.7,386.0 521.8,381.8 523.0,383.5 524.3,379.3 525.7,376.0 526.8,376.8 528.0,383.5 529.3,380.2 530.7,381.8 531.8,384.3 533.0,387.7 534.3,391.0 535.7,393.5 536.8,382.7 537.7,374.3 538.7,382.7 539.3,373.5"/>
<g shape-rendering="crispEdges">
<rect x="109" y="310" width="2" height="110" fill="url(#dB1)"/>
<rect x="109" y="435" width="2" height="6" fill="#0080ff"/>
<rect x="116" y="310" width="1" height="110" fill="url(#dB1)"/>
<rect x="116" y="435" width="1" height="6" fill="#0080ff"/>
<rect x="124" y="310" width="1" height="110" fill="url(#dB1)"/>
<rect x="124" y="435" width="1" height="6" fill="#0080ff"/>
<rect x="129" y="310" width="1" height="110" fill="url(#dB1)"/>
<rect x="129" y="435" width="1" height="6" fill="#0080ff"/>
<rect x="139" y="310" width="1" height="110" fill="url(#dB1)"/>
<rect x="139" y="435" width="1" height="6" fill="#0080ff"/>
<rect x="142" y="310" width="1" height="110" fill="url(#dB1)"/>
<rect x="142" y="435" width="1" height="6" fill="#0080ff"/>
<rect x="154" y="310" width="1" height="110" fill="url(#dB1)"/>
<rect x="154" y="435" width="1" height="6" fill="#0080ff"/>
<rect x="156" y="310" width="1" height="110" fill="url(#dB1)"/>
<rect x="156" y="435" width="1" height="6" fill="#0080ff"/>
<rect x="158" y="310" width="1" height="110" fill="url(#dB1)"/>
<rect x="158" y="435" width="1" height="6" fill="#0080ff"/>
<rect x="160" y="310" width="1" height="110" fill="url(#dB1)"/>
<rect x="160" y="435" width="1" height="6" fill="#0080ff"/>
<rect x="171" y="310" width="2" height="110" fill="url(#dB1)"/>
<rect x="171" y="435" width="2" height="6" fill="#0080ff"/>
<rect x="179" y="310" width="2" height="110" fill="url(#dB1)"/>
<rect x="179" y="435" width="2" height="6" fill="#0080ff"/>
<rect x="188" y="310" width="2" height="110" fill="url(#dB1)"/>
<rect x="188" y="435" width="2" height="6" fill="#0080ff"/>
<rect x="201" y="310" width="2" height="110" fill="url(#dB1)"/>
<rect x="201" y="435" width="2" height="6" fill="#0080ff"/>
<rect x="204" y="310" width="2" height="110" fill="url(#dB1)"/>
<rect x="204" y="435" width="2" height="6" fill="#0080ff"/>
<rect x="208" y="310" width="1" height="110" fill="url(#dB1)"/>
<rect x="208" y="435" width="1" height="6" fill="#0080ff"/>
<rect x="223" y="310" width="1" height="110" fill="url(#dB1)"/>
<rect x="223" y="435" width="1" height="6" fill="#0080ff"/>
<rect x="225" y="310" width="1" height="110" fill="url(#dB1)"/>
<rect x="225" y="435" width="1" height="6" fill="#0080ff"/>
<rect x="228" y="310" width="1" height="110" fill="url(#dB1)"/>
<rect x="228" y="435" width="1" height="6" fill="#0080ff"/>
<rect x="242" y="310" width="1" height="110" fill="url(#dB1)"/>
<rect x="242" y="435" width="1" height="6" fill="#0080ff"/>
<rect x="245" y="310" width="1" height="110" fill="url(#dB1)"/>
<rect x="245" y="435" width="1" height="6" fill="#0080ff"/>
<rect x="249" y="310" width="2" height="110" fill="url(#dB1)"/>
<rect x="249" y="435" width="2" height="6" fill="#0080ff"/>
<rect x="261" y="310" width="1" height="110" fill="url(#dB1)"/>
<rect x="261" y="435" width="1" height="6" fill="#0080ff"/>
<rect x="268" y="310" width="3" height="110" fill="url(#dB1)"/>
<rect x="268" y="435" width="3" height="6" fill="#0080ff"/>
<rect x="276" y="310" width="1" height="110" fill="url(#dB1)"/>
<rect x="276" y="435" width="1" height="6" fill="#0080ff"/>
<rect x="281" y="310" width="1" height="110" fill="url(#dB1)"/>
<rect x="281" y="435" width="1" height="6" fill="#0080ff"/>
<rect x="293" y="310" width="1" height="110" fill="url(#dB1)"/>
<rect x="293" y="435" width="1" height="6" fill="#0080ff"/>
<rect x="302" y="310" width="1" height="110" fill="url(#dB1)"/>
<rect x="302" y="435" width="1" height="6" fill="#0080ff"/>
<rect x="317" y="310" width="1" height="110" fill="url(#dB1)"/>
<rect x="317" y="435" width="1" height="6" fill="#0080ff"/>
<rect x="319" y="310" width="1" height="110" fill="url(#dB1)"/>
<rect x="319" y="435" width="1" height="6" fill="#0080ff"/>
<rect x="323" y="310" width="1" height="110" fill="url(#dB1)"/>
<rect x="323" y="435" width="1" height="6" fill="#0080ff"/>
<rect x="331" y="310" width="1" height="110" fill="url(#dB1)"/>
<rect x="331" y="435" width="1" height="6" fill="#0080ff"/>
<rect x="345" y="310" width="1" height="110" fill="url(#dB1)"/>
<rect x="345" y="435" width="1" height="6" fill="#0080ff"/>
<rect x="360" y="310" width="1" height="110" fill="url(#dB1)"/>
<rect x="360" y="435" width="1" height="6" fill="#0080ff"/>
<rect x="366" y="310" width="1" height="110" fill="url(#dB1)"/>
<rect x="366" y="435" width="1" height="6" fill="#0080ff"/>
<rect x="369" y="310" width="1" height="110" fill="url(#dB1)"/>
<rect x="369" y="435" width="1" height="6" fill="#0080ff"/>
<rect x="372" y="310" width="1" height="110" fill="url(#dB1)"/>
<rect x="372" y="435" width="1" height="6" fill="#0080ff"/>
<rect x="390" y="310" width="1" height="110" fill="url(#dB1)"/>
<rect x="390" y="435" width="1" height="6" fill="#0080ff"/>
<rect x="392" y="310" width="1" height="110" fill="url(#dB1)"/>
<rect x="392" y="435" width="1" height="6" fill="#0080ff"/>
<rect x="400" y="310" width="1" height="110" fill="url(#dB1)"/>
<rect x="400" y="435" width="1" height="6" fill="#0080ff"/>
<rect x="418" y="310" width="1" height="110" fill="url(#dB1)"/>
<rect x="418" y="435" width="1" height="6" fill="#0080ff"/>
<rect x="421" y="310" width="1" height="110" fill="url(#dB1)"/>
<rect x="421" y="435" width="1" height="6" fill="#0080ff"/>
<rect x="429" y="310" width="1" height="110" fill="url(#dB1)"/>
<rect x="429" y="435" width="1" height="6" fill="#0080ff"/>
<rect x="445" y="310" width="1" height="110" fill="url(#dB1)"/>
<rect x="445" y="435" width="1" height="6" fill="#0080ff"/>
<rect x="452" y="310" width="1" height="110" fill="url(#dB1)"/>
<rect x="452" y="435" width="1" height="6" fill="#0080ff"/>
<rect x="459" y="310" width="1" height="110" fill="url(#dB1)"/>
<rect x="459" y="435" width="1" height="6" fill="#0080ff"/>
<rect x="485" y="310" width="1" height="110" fill="url(#dB1)"/>
<rect x="485" y="435" width="1" height="6" fill="#0080ff"/>
<rect x="489" y="310" width="1" height="110" fill="url(#dB1)"/>
<rect x="489" y="435" width="1" height="6" fill="#0080ff"/>
<rect x="519" y="310" width="1" height="110" fill="url(#dB1)"/>
<rect x="519" y="435" width="1" height="6" fill="#0080ff"/>
<rect x="148" y="310" width="1" height="110" fill="url(#dM1)"/>
<rect x="148" y="302" width="1" height="6" fill="#cc00cc"/>
<rect x="174" y="310" width="1" height="110" fill="url(#dM1)"/>
<rect x="174" y="302" width="1" height="6" fill="#cc00cc"/>
<rect x="184" y="310" width="1" height="110" fill="url(#dM1)"/>
<rect x="184" y="302" width="1" height="6" fill="#cc00cc"/>
<rect x="193" y="310" width="1" height="110" fill="url(#dM1)"/>
<rect x="193" y="302" width="1" height="6" fill="#cc00cc"/>
<rect x="215" y="310" width="1" height="110" fill="url(#dM1)"/>
<rect x="215" y="302" width="1" height="6" fill="#cc00cc"/>
<rect x="232" y="310" width="1" height="110" fill="url(#dM1)"/>
<rect x="232" y="302" width="1" height="6" fill="#cc00cc"/>
<rect x="237" y="310" width="1" height="110" fill="url(#dM1)"/>
<rect x="237" y="302" width="1" height="6" fill="#cc00cc"/>
<rect x="254" y="310" width="1" height="110" fill="url(#dM1)"/>
<rect x="254" y="302" width="1" height="6" fill="#cc00cc"/>
<rect x="351" y="310" width="1" height="110" fill="url(#dM1)"/>
<rect x="351" y="302" width="1" height="6" fill="#cc00cc"/>
<rect x="414" y="310" width="1" height="110" fill="url(#dM1)"/>
<rect x="414" y="302" width="1" height="6" fill="#cc00cc"/>
<rect x="501" y="310" width="1" height="110" fill="url(#dM1)"/>
<rect x="501" y="302" width="1" height="6" fill="#cc00cc"/>
<rect x="539" y="310" width="1" height="110" fill="url(#dM1)"/>
<rect x="539" y="302" width="1" height="6" fill="#cc00cc"/>
</g>
<g shape-rendering="crispEdges" fill="#000">
<rect x="108" y="285" width="433" height="1" fill="#000"/>
<rect x="108" y="471" width="433" height="1" fill="#000"/>
<rect x="108" y="285" width="1" height="187" fill="#000"/>
<rect x="540" y="285" width="1" height="187" fill="#000"/>
<rect x="125" y="286" width="1" height="5" fill="#000"/>
<rect x="125" y="466" width="1" height="5" fill="#000"/>
<rect x="144" y="286" width="1" height="9" fill="#000"/>
<rect x="144" y="461" width="1" height="10" fill="#000"/>
<rect x="163" y="286" width="1" height="5" fill="#000"/>
<rect x="163" y="466" width="1" height="5" fill="#000"/>
<rect x="182" y="286" width="1" height="5" fill="#000"/>
<rect x="182" y="466" width="1" height="5" fill="#000"/>
<rect x="200" y="286" width="1" height="5" fill="#000"/>
<rect x="200" y="466" width="1" height="5" fill="#000"/>
<rect x="219" y="286" width="1" height="9" fill="#000"/>
<rect x="219" y="461" width="1" height="10" fill="#000"/>
<rect x="238" y="286" width="1" height="5" fill="#000"/>
<rect x="238" y="466" width="1" height="5" fill="#000"/>
<rect x="257" y="286" width="1" height="5" fill="#000"/>
<rect x="257" y="466" width="1" height="5" fill="#000"/>
<rect x="276" y="286" width="1" height="5" fill="#000"/>
<rect x="276" y="466" width="1" height="5" fill="#000"/>
<rect x="294" y="286" width="1" height="9" fill="#000"/>
<rect x="294" y="461" width="1" height="10" fill="#000"/>
<rect x="313" y="286" width="1" height="5" fill="#000"/>
<rect x="313" y="466" width="1" height="5" fill="#000"/>
<rect x="332" y="286" width="1" height="5" fill="#000"/>
<rect x="332" y="466" width="1" height="5" fill="#000"/>
<rect x="351" y="286" width="1" height="5" fill="#000"/>
<rect x="351" y="466" width="1" height="5" fill="#000"/>
<rect x="370" y="286" width="1" height="9" fill="#000"/>
<rect x="370" y="461" width="1" height="10" fill="#000"/>
<rect x="388" y="286" width="1" height="5" fill="#000"/>
<rect x="388" y="466" width="1" height="5" fill="#000"/>
<rect x="407" y="286" width="1" height="5" fill="#000"/>
<rect x="407" y="466" width="1" height="5" fill="#000"/>
<rect x="426" y="286" width="1" height="5" fill="#000"/>
<rect x="426" y="466" width="1" height="5" fill="#000"/>
<rect x="445" y="286" width="1" height="9" fill="#000"/>
<rect x="445" y="461" width="1" height="10" fill="#000"/>
<rect x="464" y="286" width="1" height="5" fill="#000"/>
<rect x="464" y="466" width="1" height="5" fill="#000"/>
<rect x="482" y="286" width="1" height="5" fill="#000"/>
<rect x="482" y="466" width="1" height="5" fill="#000"/>
<rect x="501" y="286" width="1" height="5" fill="#000"/>
<rect x="501" y="466" width="1" height="5" fill="#000"/>
<rect x="520" y="286" width="1" height="9" fill="#000"/>
<rect x="520" y="461" width="1" height="10" fill="#000"/>
<rect x="539" y="286" width="1" height="5" fill="#000"/>
<rect x="539" y="466" width="1" height="5" fill="#000"/>
<rect x="109" y="418" width="9" height="1" fill="#000"/>
<rect x="530" y="418" width="10" height="1" fill="#000"/>
<rect x="109" y="413" width="4" height="1" fill="#000"/>
<rect x="535" y="413" width="5" height="1" fill="#000"/>
<rect x="109" y="408" width="4" height="1" fill="#000"/>
<rect x="535" y="408" width="5" height="1" fill="#000"/>
<rect x="109" y="403" width="4" height="1" fill="#000"/>
<rect x="535" y="403" width="5" height="1" fill="#000"/>
<rect x="109" y="398" width="4" height="1" fill="#000"/>
<rect x="535" y="398" width="5" height="1" fill="#000"/>
<rect x="109" y="393" width="9" height="1" fill="#000"/>
<rect x="530" y="393" width="10" height="1" fill="#000"/>
<rect x="109" y="388" width="4" height="1" fill="#000"/>
<rect x="535" y="388" width="5" height="1" fill="#000"/>
<rect x="109" y="383" width="4" height="1" fill="#000"/>
<rect x="535" y="383" width="5" height="1" fill="#000"/>
<rect x="109" y="378" width="4" height="1" fill="#000"/>
<rect x="535" y="378" width="5" height="1" fill="#000"/>
<rect x="109" y="372" width="4" height="1" fill="#000"/>
<rect x="535" y="372" width="5" height="1" fill="#000"/>
<rect x="109" y="367" width="9" height="1" fill="#000"/>
<rect x="530" y="367" width="10" height="1" fill="#000"/>
<rect x="109" y="362" width="4" height="1" fill="#000"/>
<rect x="535" y="362" width="5" height="1" fill="#000"/>
<rect x="109" y="357" width="4" height="1" fill="#000"/>
<rect x="535" y="357" width="5" height="1" fill="#000"/>
<rect x="109" y="352" width="4" height="1" fill="#000"/>
<rect x="535" y="352" width="5" height="1" fill="#000"/>
<rect x="109" y="347" width="4" height="1" fill="#000"/>
<rect x="535" y="347" width="5" height="1" fill="#000"/>
<rect x="109" y="342" width="9" height="1" fill="#000"/>
<rect x="530" y="342" width="10" height="1" fill="#000"/>
<rect x="109" y="337" width="4" height="1" fill="#000"/>
<rect x="535" y="337" width="5" height="1" fill="#000"/>
<rect x="109" y="332" width="4" height="1" fill="#000"/>
<rect x="535" y="332" width="5" height="1" fill="#000"/>
<rect x="109" y="327" width="4" height="1" fill="#000"/>
<rect x="535" y="327" width="5" height="1" fill="#000"/>
<rect x="109" y="321" width="4" height="1" fill="#000"/>
<rect x="535" y="321" width="5" height="1" fill="#000"/>
<rect x="109" y="316" width="9" height="1" fill="#000"/>
<rect x="530" y="316" width="10" height="1" fill="#000"/>
<rect x="109" y="311" width="4" height="1" fill="#000"/>
<rect x="535" y="311" width="5" height="1" fill="#000"/>
</g>
<g font-family="Liberation Sans, sans-serif" font-size="9.6px" fill="#000" stroke="#000" stroke-width="0.25">
<text x="144.0" y="485" text-anchor="middle">4022</text>
<text x="219.2" y="485" text-anchor="middle">4024</text>
<text x="294.4" y="485" text-anchor="middle">4026</text>
<text x="369.6" y="485" text-anchor="middle">4028</text>
<text x="444.8" y="485" text-anchor="middle">4030</text>
<text x="520.0" y="485" text-anchor="middle">4032</text>
<text x="103.4" y="422" text-anchor="end">0</text>
<text x="103.4" y="397" text-anchor="end">1000</text>
<text x="103.4" y="371" text-anchor="end">2000</text>
<text x="103.4" y="346" text-anchor="end">3000</text>
<text x="103.4" y="320" text-anchor="end">4000</text>
</g>
<g font-family="Liberation Sans, sans-serif" font-size="7px" font-weight="bold">
<text x="557" y="297" fill="#ff0028" textLength="23" lengthAdjust="spacingAndGlyphs">NS O2</text>
<text x="557" y="302" fill="#00cccc" textLength="24" lengthAdjust="spacingAndGlyphs">NS OH</text>
<text x="557" y="307" fill="#cc00cc" textLength="18" lengthAdjust="spacingAndGlyphs">UNID</text>
<text x="557" y="428" fill="#000" textLength="11" lengthAdjust="spacingAndGlyphs">CN</text>
<text x="557" y="435" fill="#ff0000" textLength="11" lengthAdjust="spacingAndGlyphs">CH</text>
<text x="557" y="441" fill="#0080ff" textLength="10" lengthAdjust="spacingAndGlyphs">C3</text>
<text x="557" y="447" fill="#00ee00" textLength="10" lengthAdjust="spacingAndGlyphs">C2</text>
<text x="557" y="453" fill="#ff9000" textLength="15" lengthAdjust="spacingAndGlyphs">NH2</text>
<text x="557" y="459" fill="#8000ff" textLength="20" lengthAdjust="spacingAndGlyphs">H2O+</text>
<text x="557" y="465" fill="#807000" textLength="15" lengthAdjust="spacingAndGlyphs">CH+</text>
</g>
<polyline shape-rendering="crispEdges" fill="none" stroke="#0080ff" stroke-width="1" points="108.5,551.2 109.7,552.8 111.0,554.5 112.3,553.7 113.5,555.3 114.7,556.2 116.0,557.8 117.3,554.5 118.0,548.7 119.3,547.8 120.7,551.2 121.8,554.5 123.0,557.0 124.3,559.5 125.7,561.2 126.8,558.7 128.0,555.3 129.3,552.8 130.7,557.0 131.8,557.8 133.0,552.0 134.3,547.0 135.7,552.0 136.8,555.3 138.0,557.8 139.3,556.2 140.7,558.7 141.8,556.2 143.0,557.8 144.3,557.0 145.7,557.8 146.8,559.5 148.0,557.0 149.3,558.7 150.7,556.2 151.8,557.8 153.0,555.3 154.3,557.0 155.5,552.8 156.7,557.8 158.0,558.7 159.3,557.0 160.7,557.8 161.8,555.3 163.0,557.0 164.0,552.8 165.2,558.7 166.3,554.5 167.7,550.3 169.0,545.3 170.2,542.8 171.3,542.0 172.3,545.3 173.5,552.0 174.7,557.0 176.0,555.3 177.3,556.2 178.5,557.8 179.7,554.5 181.0,559.5 182.3,562.8 183.5,560.3 184.7,555.3 186.0,552.0 187.3,554.5 188.5,550.3 189.7,556.2 191.0,558.7 192.3,562.8 193.5,565.3 194.7,566.2 196.0,562.0 197.3,563.7 198.5,557.8 199.7,555.3 201.0,557.0 202.3,556.2 203.5,557.8 204.7,556.2 206.0,557.8 207.3,556.2 208.5,553.7 209.7,557.8 211.0,561.2 212.3,562.8 213.5,562.0 214.7,561.2 216.0,559.5 217.3,562.0 218.5,561.7 219.7,561.2 221.0,560.7 222.3,559.5 223.5,558.7 224.7,556.2 226.0,557.8 227.3,559.5 228.5,560.3 229.7,557.8 230.7,555.3 231.8,556.2 233.0,558.7 234.3,559.5 235.7,561.2 236.8,562.8 238.0,564.5 239.3,565.3 240.7,563.7 241.8,565.3 243.0,564.5 244.3,565.3 245.7,563.7 246.8,562.8 248.0,562.0 249.3,560.3 250.7,557.8 251.8,556.2 253.0,561.2 254.3,559.5 255.5,562.8 256.8,563.7 258.0,561.2 259.3,560.3 260.7,562.0 261.8,562.8 263.0,563.7 264.3,566.2 265.7,565.3 266.8,562.8 268.0,563.7 269.3,562.0 270.7,562.8 271.8,557.8 273.0,557.0 274.3,556.2 275.7,551.2 276.8,547.0 278.0,551.2 279.3,557.8 280.7,561.2 281.8,562.8 283.0,564.5 284.3,564.5 285.7,565.0 286.8,564.5 288.0,565.3 289.3,564.5 290.7,565.3 291.8,562.0 293.0,559.5 294.3,557.0 295.7,559.5 296.8,562.0 298.0,562.8 299.3,562.0 300.7,563.7 301.8,561.2 303.0,559.5 304.3,557.8 305.5,560.3 306.0,561.2 307.7,562.0 309.3,561.2 311.0,562.8 312.7,561.7 314.3,562.0 316.0,561.2 317.7,562.8 319.3,563.7 321.0,564.5 322.7,562.0 324.3,562.8 326.0,562.0 327.7,562.0 329.0,560.3 330.2,553.7 331.5,547.0 332.7,552.8 334.0,557.8 335.7,561.2 336.8,557.8 338.0,550.3 339.3,542.0 340.7,537.0 341.8,532.8 343.0,532.0 344.3,535.3 345.7,538.7 346.8,545.3 348.0,551.2 349.3,556.2 350.7,555.3 351.8,556.2 353.0,552.0 354.3,550.3 355.7,552.8 356.8,553.7 358.0,551.2 359.3,552.0 360.7,549.5 361.8,548.7 363.0,547.0 364.3,544.5 365.7,545.3 366.8,542.0 368.0,539.5 369.3,543.7 370.7,548.7 371.8,551.2 373.0,553.7 374.3,550.3 375.3,540.3 376.3,533.7 377.7,540.3 378.8,547.8 380.0,543.7 381.3,537.0 382.7,538.7 384.0,532.0 385.3,523.7 386.7,537.0 387.7,532.0 389.0,525.3 390.2,540.3 391.3,543.7 392.7,534.5 394.0,543.7 395.3,535.3 396.7,545.3 397.7,550.3 399.0,535.3 400.3,523.7 401.3,537.0 402.7,549.5 404.0,552.0 405.3,547.0 406.0,539.7 407.3,528.0 408.5,538.0 409.7,548.8 411.0,553.8 412.3,543.0 413.7,533.0 415.0,528.0 416.3,536.3 417.7,543.8 419.0,546.3 420.3,543.0 421.7,548.8 423.0,553.0 424.3,547.2 425.7,543.0 427.0,548.0 428.3,552.2 429.7,553.8 431.0,551.3 432.3,545.5 433.7,539.7 435.0,536.3 436.0,535.5 437.0,543.0 438.3,553.0 439.7,558.8 441.0,562.2 442.7,561.3 444.3,558.0 446.0,553.0 447.7,547.2 449.3,544.7 451.0,543.0 452.7,538.0 454.3,534.7 455.7,541.3 457.0,547.2 458.3,548.8 459.7,548.0 461.0,550.5 462.7,553.8 464.3,557.2 465.7,558.8 467.0,557.2 468.3,553.8 469.7,548.0 471.0,543.0 472.3,540.5 473.7,539.7 475.0,542.2 476.3,541.3 477.7,545.5 479.3,548.8 480.7,546.3 482.0,539.7 483.2,528.0 484.3,534.7 485.7,524.7 487.0,529.7 488.3,534.7 489.7,524.7 491.0,523.0 492.3,528.0 493.7,533.0 495.0,539.7 496.3,543.0 497.7,544.7 499.0,543.0 500.3,538.8 501.7,535.5 503.0,538.0 504.3,541.3 505.7,545.5 507.0,548.0 508.0,549.7 509.3,544.7 510.7,539.7 512.0,536.3 513.3,539.7 514.7,543.0 516.0,545.5 517.3,539.7 518.7,534.7 520.0,539.7 521.3,544.7 522.7,548.0 524.0,536.3 525.3,524.7 526.7,533.0 528.0,543.0 529.3,546.3 530.7,550.5 532.0,551.3 533.0,538.0 534.0,524.7 535.0,534.7 536.0,546.3 537.3,553.0 538.7,555.5 539.7,556.3"/>
<polyline shape-rendering="crispEdges" fill="none" stroke="#000" stroke-width="1" points="108.5,595.3 109.7,597.0 111.0,593.7 112.3,596.2 113.5,600.3 114.7,604.5 116.0,605.3 116.8,603.7 117.7,592.0 118.7,584.5 119.7,588.7 121.0,596.2 122.3,600.3 123.5,601.2 124.7,604.5 126.0,605.3 126.8,600.3 128.0,595.3 129.3,597.8 130.7,600.3 131.8,595.3 133.0,590.3 134.0,586.2 135.2,594.5 136.3,597.0 137.7,599.5 139.0,603.7 140.2,602.0 141.3,602.8 142.7,603.7 144.0,604.5 145.2,605.3 146.3,604.5 147.7,602.0 149.0,599.5 150.2,597.8 151.3,600.3 152.7,602.8 154.0,599.5 155.2,597.8 156.3,600.3 157.7,603.7 159.0,601.2 160.2,598.7 161.3,603.7 162.7,598.7 163.8,603.7 165.2,604.5 166.3,595.3 167.7,587.0 169.0,579.5 170.7,577.0 171.8,580.3 173.0,590.3 174.3,600.3 175.7,602.8 176.8,600.3 178.0,603.7 179.3,608.7 180.7,612.8 181.8,614.5 183.0,610.3 184.3,605.3 185.7,597.8 187.3,594.5 188.5,597.0 189.7,601.2 191.0,607.0 192.3,611.2 193.5,614.5 195.2,616.2 196.8,612.8 197.7,605.3 199.0,600.3 200.2,597.8 201.3,598.7 202.7,599.5 203.8,601.2 205.2,607.0 206.0,607.0 207.3,601.2 208.5,597.0 209.7,602.0 211.0,612.8 212.3,611.2 213.5,609.5 214.7,608.7 216.0,610.3 217.3,612.0 218.5,611.2 219.7,609.5 221.0,608.7 222.3,606.2 223.5,602.0 224.7,599.5 226.0,601.2 227.3,603.7 228.5,606.2 229.7,603.7 231.0,600.3 232.3,598.7 233.5,600.3 234.7,605.3 236.0,612.0 237.3,615.3 238.5,616.2 240.2,616.2 241.3,614.5 242.7,612.8 244.0,612.0 245.2,610.3 246.3,609.5 247.7,607.0 249.0,603.7 250.2,601.2 251.3,600.3 252.7,603.7 254.0,605.3 255.2,608.7 256.3,612.0 257.3,609.5 258.5,606.2 259.7,609.5 261.0,611.2 262.3,612.8 263.5,614.5 264.7,615.3 266.3,617.0 267.7,613.7 269.0,612.0 270.2,611.2 271.3,608.7 272.7,603.7 274.0,598.7 275.2,595.3 276.3,584.5 277.3,583.7 278.5,593.7 279.3,602.0 280.7,607.0 281.8,610.3 283.0,612.8 284.3,613.7 285.7,614.5 286.8,613.7 288.0,612.8 289.3,612.8 290.7,612.0 291.8,611.2 292.7,607.0 293.8,602.8 295.2,602.8 296.0,608.7 297.3,613.7 298.5,614.5 299.7,612.8 301.0,613.7 302.3,610.3 303.5,605.3 304.3,603.7 305.5,607.0 306.0,612.0 307.7,612.8 309.3,612.0 311.0,613.3 312.7,612.3 314.3,612.8 316.0,613.3 317.7,613.3 319.3,614.0 321.0,614.5 322.7,613.7 324.0,611.2 325.2,610.3 326.3,612.8 327.3,613.7 328.5,607.0 329.7,597.0 330.7,588.7 331.5,584.5 332.7,595.3 334.0,605.3 335.2,610.3 336.3,600.3 337.3,588.7 338.5,577.0 339.8,570.3 341.0,563.7 342.3,557.8 343.5,557.8 344.7,562.0 346.0,572.0 347.3,582.0 348.5,592.0 349.7,599.5 351.0,603.7 352.3,595.3 353.5,590.3 354.7,595.3 356.0,595.3 357.3,592.8 358.5,591.2 359.7,587.0 361.0,585.3 362.3,582.8 363.5,579.5 364.7,581.2 366.0,575.3 367.3,571.2 368.5,577.0 369.7,583.7 370.7,592.0 371.8,594.5 373.2,594.5 374.3,587.0 375.3,573.7 376.3,557.0 377.3,567.0 378.3,577.0 379.3,588.7 380.5,578.7 381.7,568.7 382.7,561.2 383.8,566.2 384.7,555.3 385.7,540.3 386.7,537.0 387.7,545.3 388.8,552.8 389.8,552.0 391.0,572.0 392.2,585.3 393.3,563.7 394.3,577.0 395.7,587.0 396.8,590.3 398.0,577.0 399.3,558.7 400.5,551.2 401.5,572.0 402.7,587.0 403.7,597.0 404.7,582.0 405.7,563.7 406.0,553.8 407.3,559.7 408.5,573.0 409.7,588.0 411.0,595.5 412.3,581.3 413.7,559.7 415.0,557.2 416.3,568.0 417.7,584.7 419.0,576.3 420.3,579.7 421.7,591.3 423.0,596.3 424.3,584.7 425.7,576.3 427.0,579.7 428.3,591.3 429.7,598.0 431.0,598.8 432.3,589.7 433.7,576.3 435.0,566.3 436.0,563.0 437.0,579.7 438.3,594.7 439.7,604.7 441.0,608.8 442.7,609.7 444.3,606.3 445.7,598.0 447.0,588.0 448.3,581.3 449.7,579.7 451.0,577.2 452.7,571.3 454.3,566.3 455.7,574.7 457.0,584.7 458.3,589.7 459.7,581.3 461.0,588.0 462.7,596.3 464.3,603.0 465.7,605.5 467.0,599.7 468.3,589.7 469.7,579.7 471.0,573.0 472.3,574.7 473.7,576.3 475.0,573.0 476.3,579.7 477.7,586.3 479.0,588.0 480.3,576.3 481.7,563.0 483.0,551.3 484.0,559.7 485.0,566.3 486.3,568.0 487.3,548.0 488.3,534.7 489.7,537.2 491.0,539.7 492.3,544.7 493.7,556.3 495.0,573.0 496.3,581.3 497.7,582.2 499.0,580.5 500.3,578.0 501.7,568.0 503.0,559.7 504.3,569.7 505.7,581.3 507.0,586.3 508.0,588.0 509.3,584.7 510.7,576.3 512.0,573.0 513.3,575.5 514.7,579.7 516.0,583.0 517.3,573.0 518.3,555.5 519.3,564.7 520.3,581.3 521.3,589.7 522.3,591.3 523.3,576.3 524.3,556.3 525.3,548.8 526.3,561.3 527.3,573.0 528.3,581.3 529.3,588.0 530.7,593.0 531.7,584.7 532.7,556.3 533.7,541.3 534.3,534.7 535.2,543.0 536.0,561.3 537.0,584.7 538.0,591.3 539.0,598.0 539.7,596.3"/>
<g shape-rendering="crispEdges">
<rect x="133" y="523" width="2" height="110" fill="url(#dB2)"/>
<rect x="133" y="648" width="2" height="6" fill="#0080ff"/>
<rect x="165" y="523" width="1" height="110" fill="url(#dB2)"/>
<rect x="165" y="648" width="1" height="6" fill="#0080ff"/>
<rect x="169" y="523" width="1" height="110" fill="url(#dB2)"/>
<rect x="169" y="648" width="1" height="6" fill="#0080ff"/>
<rect x="199" y="523" width="1" height="110" fill="url(#dB2)"/>
<rect x="199" y="648" width="1" height="6" fill="#0080ff"/>
<rect x="204" y="523" width="1" height="110" fill="url(#dB2)"/>
<rect x="204" y="648" width="1" height="6" fill="#0080ff"/>
<rect x="241" y="523" width="1" height="110" fill="url(#dB2)"/>
<rect x="241" y="648" width="1" height="6" fill="#0080ff"/>
<rect x="343" y="523" width="1" height="110" fill="url(#dB2)"/>
<rect x="343" y="648" width="1" height="6" fill="#0080ff"/>
<rect x="345" y="523" width="1" height="110" fill="url(#dB2)"/>
<rect x="345" y="648" width="1" height="6" fill="#0080ff"/>
<rect x="348" y="523" width="2" height="110" fill="url(#dB2)"/>
<rect x="348" y="648" width="2" height="6" fill="#0080ff"/>
<rect x="352" y="523" width="1" height="110" fill="url(#dB2)"/>
<rect x="352" y="648" width="1" height="6" fill="#0080ff"/>
<rect x="354" y="523" width="1" height="110" fill="url(#dB2)"/>
<rect x="354" y="648" width="1" height="6" fill="#0080ff"/>
<rect x="357" y="523" width="1" height="110" fill="url(#dB2)"/>
<rect x="357" y="648" width="1" height="6" fill="#0080ff"/>
<rect x="360" y="523" width="1" height="110" fill="url(#dB2)"/>
<rect x="360" y="648" width="1" height="6" fill="#0080ff"/>
<rect x="363" y="523" width="1" height="110" fill="url(#dB2)"/>
<rect x="363" y="648" width="1" height="6" fill="#0080ff"/>
<rect x="367" y="523" width="1" height="110" fill="url(#dB2)"/>
<rect x="367" y="648" width="1" height="6" fill="#0080ff"/>
<rect x="371" y="523" width="1" height="110" fill="url(#dB2)"/>
<rect x="371" y="648" width="1" height="6" fill="#0080ff"/>
<rect x="379" y="523" width="1" height="110" fill="url(#dB2)"/>
<rect x="379" y="648" width="1" height="6" fill="#0080ff"/>
<rect x="384" y="523" width="1" height="110" fill="url(#dB2)"/>
<rect x="384" y="648" width="1" height="6" fill="#0080ff"/>
<rect x="386" y="523" width="1" height="110" fill="url(#dB2)"/>
<rect x="386" y="648" width="1" height="6" fill="#0080ff"/>
<rect x="388" y="523" width="1" height="110" fill="url(#dB2)"/>
<rect x="388" y="648" width="1" height="6" fill="#0080ff"/>
<rect x="390" y="523" width="1" height="110" fill="url(#dB2)"/>
<rect x="390" y="648" width="1" height="6" fill="#0080ff"/>
<rect x="393" y="523" width="1" height="110" fill="url(#dB2)"/>
<rect x="393" y="648" width="1" height="6" fill="#0080ff"/>
<rect x="395" y="523" width="1" height="110" fill="url(#dB2)"/>
<rect x="395" y="648" width="1" height="6" fill="#0080ff"/>
<rect x="399" y="523" width="1" height="110" fill="url(#dB2)"/>
<rect x="399" y="648" width="1" height="6" fill="#0080ff"/>
<rect x="401" y="523" width="1" height="110" fill="url(#dB2)"/>
<rect x="401" y="648" width="1" height="6" fill="#0080ff"/>
<rect x="406" y="523" width="1" height="110" fill="url(#dB2)"/>
<rect x="406" y="648" width="1" height="6" fill="#0080ff"/>
<rect x="408" y="523" width="1" height="110" fill="url(#dB2)"/>
<rect x="408" y="648" width="1" height="6" fill="#0080ff"/>
<rect x="410" y="523" width="1" height="110" fill="url(#dB2)"/>
<rect x="410" y="648" width="1" height="6" fill="#0080ff"/>
<rect x="416" y="523" width="1" height="110" fill="url(#dB2)"/>
<rect x="416" y="648" width="1" height="6" fill="#0080ff"/>
<rect x="420" y="523" width="1" height="110" fill="url(#dB2)"/>
<rect x="420" y="648" width="1" height="6" fill="#0080ff"/>
<rect x="425" y="523" width="1" height="110" fill="url(#dB2)"/>
<rect x="425" y="648" width="1" height="6" fill="#0080ff"/>
<rect x="436" y="523" width="1" height="110" fill="url(#dB2)"/>
<rect x="436" y="648" width="1" height="6" fill="#0080ff"/>
<rect x="447" y="523" width="1" height="110" fill="url(#dB2)"/>
<rect x="447" y="648" width="1" height="6" fill="#0080ff"/>
<rect x="453" y="523" width="1" height="110" fill="url(#dB2)"/>
<rect x="453" y="648" width="1" height="6" fill="#0080ff"/>
<rect x="459" y="523" width="1" height="110" fill="url(#dB2)"/>
<rect x="459" y="648" width="1" height="6" fill="#0080ff"/>
<rect x="471" y="523" width="2" height="110" fill="url(#dB2)"/>
<rect x="471" y="648" width="2" height="6" fill="#0080ff"/>
<rect x="484" y="523" width="1" height="110" fill="url(#dB2)"/>
<rect x="484" y="648" width="1" height="6" fill="#0080ff"/>
<rect x="486" y="523" width="1" height="110" fill="url(#dB2)"/>
<rect x="486" y="648" width="1" height="6" fill="#0080ff"/>
<rect x="488" y="523" width="1" height="110" fill="url(#dB2)"/>
<rect x="488" y="648" width="1" height="6" fill="#0080ff"/>
<rect x="490" y="523" width="1" height="110" fill="url(#dB2)"/>
<rect x="490" y="648" width="1" height="6" fill="#0080ff"/>
<rect x="492" y="523" width="1" height="110" fill="url(#dB2)"/>
<rect x="492" y="648" width="1" height="6" fill="#0080ff"/>
<rect x="494" y="523" width="1" height="110" fill="url(#dB2)"/>
<rect x="494" y="648" width="1" height="6" fill="#0080ff"/>
<rect x="500" y="523" width="2" height="110" fill="url(#dB2)"/>
<rect x="500" y="648" width="2" height="6" fill="#0080ff"/>
<rect x="510" y="523" width="2" height="110" fill="url(#dB2)"/>
<rect x="510" y="648" width="2" height="6" fill="#0080ff"/>
<rect x="517" y="523" width="1" height="110" fill="url(#dB2)"/>
<rect x="517" y="648" width="1" height="6" fill="#0080ff"/>
<rect x="521" y="523" width="1" height="110" fill="url(#dB2)"/>
<rect x="521" y="648" width="1" height="6" fill="#0080ff"/>
<rect x="524" y="523" width="1" height="110" fill="url(#dB2)"/>
<rect x="524" y="648" width="1" height="6" fill="#0080ff"/>
<rect x="534" y="523" width="2" height="110" fill="url(#dB2)"/>
<rect x="534" y="648" width="2" height="6" fill="#0080ff"/>
<rect x="118" y="523" width="1" height="110" fill="url(#dM2)"/>
<rect x="118" y="515" width="1" height="6" fill="#cc00cc"/>
<rect x="176" y="523" width="1" height="110" fill="url(#dM2)"/>
<rect x="176" y="515" width="1" height="6" fill="#cc00cc"/>
<rect x="187" y="523" width="1" height="110" fill="url(#dM2)"/>
<rect x="187" y="515" width="1" height="6" fill="#cc00cc"/>
<rect x="208" y="523" width="1" height="110" fill="url(#dM2)"/>
<rect x="208" y="515" width="1" height="6" fill="#cc00cc"/>
<rect x="224" y="523" width="1" height="110" fill="url(#dM2)"/>
<rect x="224" y="515" width="1" height="6" fill="#cc00cc"/>
<rect x="232" y="523" width="1" height="110" fill="url(#dM2)"/>
<rect x="232" y="515" width="1" height="6" fill="#cc00cc"/>
<rect x="251" y="523" width="1" height="110" fill="url(#dM2)"/>
<rect x="251" y="515" width="1" height="6" fill="#cc00cc"/>
<rect x="258" y="523" width="1" height="110" fill="url(#dM2)"/>
<rect x="258" y="515" width="1" height="6" fill="#cc00cc"/>
<rect x="277" y="523" width="1" height="110" fill="url(#dM2)"/>
<rect x="277" y="515" width="1" height="6" fill="#cc00cc"/>
<rect x="294" y="523" width="1" height="110" fill="url(#dM2)"/>
<rect x="294" y="515" width="1" height="6" fill="#cc00cc"/>
<rect x="304" y="523" width="1" height="110" fill="url(#dM2)"/>
<rect x="304" y="515" width="1" height="6" fill="#cc00cc"/>
<rect x="324" y="523" width="1" height="110" fill="url(#dM2)"/>
<rect x="324" y="515" width="1" height="6" fill="#cc00cc"/>
<rect x="331" y="523" width="1" height="110" fill="url(#dM2)"/>
<rect x="331" y="515" width="1" height="6" fill="#cc00cc"/>
<rect x="338" y="523" width="1" height="110" fill="url(#dM2)"/>
<rect x="338" y="515" width="1" height="6" fill="#cc00cc"/>
<rect x="376" y="523" width="1" height="110" fill="url(#dM2)"/>
<rect x="376" y="515" width="1" height="6" fill="#cc00cc"/>
<rect x="475" y="523" width="1" height="110" fill="url(#dM2)"/>
<rect x="475" y="515" width="1" height="6" fill="#cc00cc"/>
<rect x="483" y="523" width="1" height="110" fill="url(#dM2)"/>
<rect x="483" y="515" width="1" height="6" fill="#cc00cc"/>
<rect x="497" y="523" width="1" height="110" fill="url(#dM2)"/>
<rect x="497" y="515" width="1" height="6" fill="#cc00cc"/>
<rect x="503" y="523" width="1" height="110" fill="url(#dM2)"/>
<rect x="503" y="515" width="1" height="6" fill="#cc00cc"/>
<rect x="513" y="523" width="1" height="110" fill="url(#dM2)"/>
<rect x="513" y="515" width="1" height="6" fill="#cc00cc"/>
<rect x="528" y="523" width="1" height="110" fill="url(#dM2)"/>
<rect x="528" y="515" width="1" height="6" fill="#cc00cc"/>
</g>
<g shape-rendering="crispEdges" fill="#000">
<rect x="108" y="498" width="433" height="1" fill="#000"/>
<rect x="108" y="684" width="433" height="1" fill="#000"/>
<rect x="108" y="498" width="1" height="187" fill="#000"/>
<rect x="540" y="498" width="1" height="187" fill="#000"/>
<rect x="120" y="499" width="1" height="5" fill="#000"/>
<rect x="120" y="679" width="1" height="5" fill="#000"/>
<rect x="138" y="499" width="1" height="5" fill="#000"/>
<rect x="138" y="679" width="1" height="5" fill="#000"/>
<rect x="157" y="499" width="1" height="5" fill="#000"/>
<rect x="157" y="679" width="1" height="5" fill="#000"/>
<rect x="176" y="499" width="1" height="9" fill="#000"/>
<rect x="176" y="674" width="1" height="10" fill="#000"/>
<rect x="195" y="499" width="1" height="5" fill="#000"/>
<rect x="195" y="679" width="1" height="5" fill="#000"/>
<rect x="214" y="499" width="1" height="5" fill="#000"/>
<rect x="214" y="679" width="1" height="5" fill="#000"/>
<rect x="232" y="499" width="1" height="5" fill="#000"/>
<rect x="232" y="679" width="1" height="5" fill="#000"/>
<rect x="251" y="499" width="1" height="9" fill="#000"/>
<rect x="251" y="674" width="1" height="10" fill="#000"/>
<rect x="270" y="499" width="1" height="5" fill="#000"/>
<rect x="270" y="679" width="1" height="5" fill="#000"/>
<rect x="289" y="499" width="1" height="5" fill="#000"/>
<rect x="289" y="679" width="1" height="5" fill="#000"/>
<rect x="308" y="499" width="1" height="5" fill="#000"/>
<rect x="308" y="679" width="1" height="5" fill="#000"/>
<rect x="326" y="499" width="1" height="9" fill="#000"/>
<rect x="326" y="674" width="1" height="10" fill="#000"/>
<rect x="345" y="499" width="1" height="5" fill="#000"/>
<rect x="345" y="679" width="1" height="5" fill="#000"/>
<rect x="364" y="499" width="1" height="5" fill="#000"/>
<rect x="364" y="679" width="1" height="5" fill="#000"/>
<rect x="383" y="499" width="1" height="5" fill="#000"/>
<rect x="383" y="679" width="1" height="5" fill="#000"/>
<rect x="402" y="499" width="1" height="9" fill="#000"/>
<rect x="402" y="674" width="1" height="10" fill="#000"/>
<rect x="421" y="499" width="1" height="5" fill="#000"/>
<rect x="421" y="679" width="1" height="5" fill="#000"/>
<rect x="439" y="499" width="1" height="5" fill="#000"/>
<rect x="439" y="679" width="1" height="5" fill="#000"/>
<rect x="458" y="499" width="1" height="5" fill="#000"/>
<rect x="458" y="679" width="1" height="5" fill="#000"/>
<rect x="477" y="499" width="1" height="9" fill="#000"/>
<rect x="477" y="674" width="1" height="10" fill="#000"/>
<rect x="496" y="499" width="1" height="5" fill="#000"/>
<rect x="496" y="679" width="1" height="5" fill="#000"/>
<rect x="515" y="499" width="1" height="5" fill="#000"/>
<rect x="515" y="679" width="1" height="5" fill="#000"/>
<rect x="533" y="499" width="1" height="5" fill="#000"/>
<rect x="533" y="679" width="1" height="5" fill="#000"/>
<rect x="109" y="631" width="9" height="1" fill="#000"/>
<rect x="530" y="631" width="10" height="1" fill="#000"/>
<rect x="109" y="626" width="4" height="1" fill="#000"/>
<rect x="535" y="626" width="5" height="1" fill="#000"/>
<rect x="109" y="621" width="4" height="1" fill="#000"/>
<rect x="535" y="621" width="5" height="1" fill="#000"/>
<rect x="109" y="616" width="4" height="1" fill="#000"/>
<rect x="535" y="616" width="5" height="1" fill="#000"/>
<rect x="109" y="611" width="4" height="1" fill="#000"/>
<rect x="535" y="611" width="5" height="1" fill="#000"/>
<rect x="109" y="605" width="9" height="1" fill="#000"/>
<rect x="530" y="605" width="10" height="1" fill="#000"/>
<rect x="109" y="600" width="4" height="1" fill="#000"/>
<rect x="535" y="600" width="5" height="1" fill="#000"/>
<rect x="109" y="595" width="4" height="1" fill="#000"/>
<rect x="535" y="595" width="5" height="1" fill="#000"/>
<rect x="109" y="590" width="4" height="1" fill="#000"/>
<rect x="535" y="590" width="5" height="1" fill="#000"/>
<rect x="109" y="585" width="4" height="1" fill="#000"/>
<rect x="535" y="585" width="5" height="1" fill="#000"/>
<rect x="109" y="580" width="9" height="1" fill="#000"/>
<rect x="530" y="580" width="10" height="1" fill="#000"/>
<rect x="109" y="575" width="4" height="1" fill="#000"/>
<rect x="535" y="575" width="5" height="1" fill="#000"/>
<rect x="109" y="570" width="4" height="1" fill="#000"/>
<rect x="535" y="570" width="5" height="1" fill="#000"/>
<rect x="109" y="565" width="4" height="1" fill="#000"/>
<rect x="535" y="565" width="5" height="1" fill="#000"/>
<rect x="109" y="560" width="4" height="1" fill="#000"/>
<rect x="535" y="560" width="5" height="1" fill="#000"/>
<rect x="109" y="554" width="9" height="1" fill="#000"/>
<rect x="530" y="554" width="10" height="1" fill="#000"/>
<rect x="109" y="549" width="4" height="1" fill="#000"/>
<rect x="535" y="549" width="5" height="1" fill="#000"/>
<rect x="109" y="544" width="4" height="1" fill="#000"/>
<rect x="535" y="544" width="5" height="1" fill="#000"/>
<rect x="109" y="539" width="4" height="1" fill="#000"/>
<rect x="535" y="539" width="5" height="1" fill="#000"/>
<rect x="109" y="534" width="4" height="1" fill="#000"/>
<rect x="535" y="534" width="5" height="1" fill="#000"/>
<rect x="109" y="529" width="9" height="1" fill="#000"/>
<rect x="530" y="529" width="10" height="1" fill="#000"/>
<rect x="109" y="524" width="4" height="1" fill="#000"/>
<rect x="535" y="524" width="5" height="1" fill="#000"/>
</g>
<g font-family="Liberation Sans, sans-serif" font-size="9.6px" fill="#000" stroke="#000" stroke-width="0.25">
<text x="176.5" y="697" text-anchor="middle">4034</text>
<text x="251.7" y="697" text-anchor="middle">4036</text>
<text x="327.0" y="697" text-anchor="middle">4038</text>
<text x="402.2" y="697" text-anchor="middle">4040</text>
<text x="477.5" y="697" text-anchor="middle">4042</text>
<text x="103.4" y="635" text-anchor="end">0</text>
<text x="103.4" y="609" text-anchor="end">1000</text>
<text x="103.4" y="584" text-anchor="end">2000</text>
<text x="103.4" y="558" text-anchor="end">3000</text>
<text x="103.4" y="533" text-anchor="end">4000</text>
</g>
<g font-family="Liberation Sans, sans-serif" font-size="7px" font-weight="bold">
<text x="557" y="510" fill="#ff0028" textLength="23" lengthAdjust="spacingAndGlyphs">NS O2</text>
<text x="557" y="515" fill="#00cccc" textLength="24" lengthAdjust="spacingAndGlyphs">NS OH</text>
<text x="557" y="520" fill="#cc00cc" textLength="18" lengthAdjust="spacingAndGlyphs">UNID</text>
<text x="557" y="641" fill="#000" textLength="11" lengthAdjust="spacingAndGlyphs">CN</text>
<text x="557" y="647" fill="#ff0000" textLength="11" lengthAdjust="spacingAndGlyphs">CH</text>
<text x="557" y="653" fill="#0080ff" textLength="10" lengthAdjust="spacingAndGlyphs">C3</text>
<text x="557" y="659" fill="#00ee00" textLength="10" lengthAdjust="spacingAndGlyphs">C2</text>
<text x="557" y="665" fill="#ff9000" textLength="15" lengthAdjust="spacingAndGlyphs">NH2</text>
<text x="557" y="671" fill="#8000ff" textLength="20" lengthAdjust="spacingAndGlyphs">H2O+</text>
<text x="557" y="677" fill="#807000" textLength="15" lengthAdjust="spacingAndGlyphs">CH+</text>
</g>
</svg></body></html>
